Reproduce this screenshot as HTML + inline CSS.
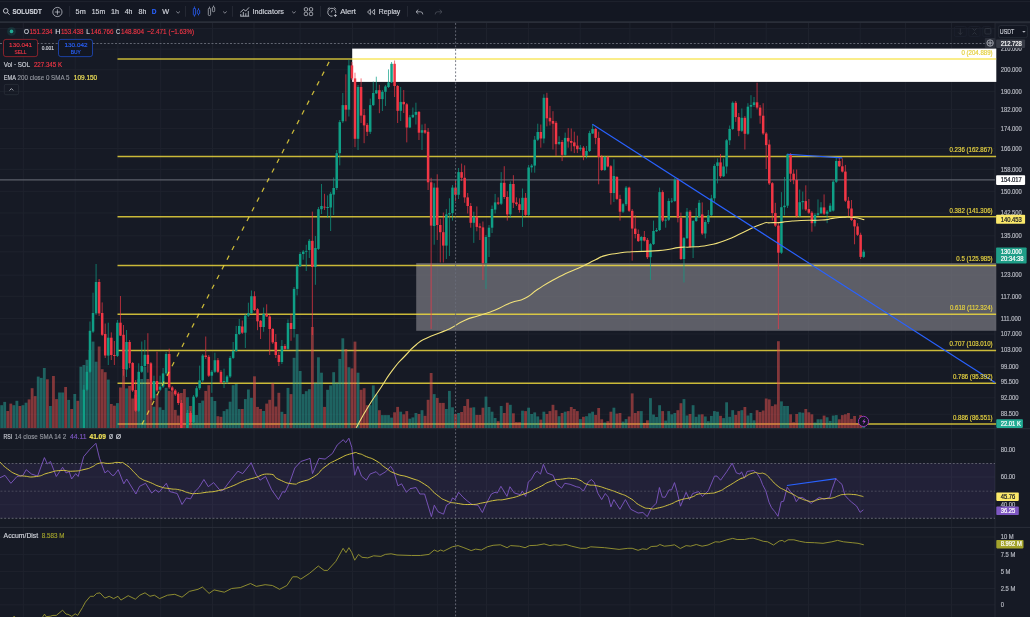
<!DOCTYPE html>
<html><head><meta charset="utf-8"><title>SOLUSDT chart</title>
<style>
html,body{margin:0;padding:0;background:#161a25;width:1030px;height:617px;overflow:hidden;}
svg{position:absolute;left:0;top:0;display:block;font-family:'Liberation Sans', Arial, sans-serif;will-change:transform;}
text{font-family:'Liberation Sans', Arial, sans-serif;}
</style></head>
<body>
<svg width="1030" height="617" viewBox="0 0 1030 617">
<defs>
<clipPath id="cpMain"><rect x="0" y="23" width="995.0" height="405.2"/></clipPath>
<clipPath id="cpAD"><rect x="0" y="527" width="995.0" height="90"/></clipPath>
</defs>
<rect x="0" y="0" width="1030" height="617" fill="#161a25"/>
<rect x="0" y="0" width="1030" height="21.2" fill="#131722"/>
<rect x="0" y="21.2" width="1030" height="2" fill="#2a2e39"/>
<rect x="0" y="1" width="1030" height="1.1" fill="#1d212c"/>
<rect x="0" y="23.2" width="995" height="4.8" fill="#141721"/>
<line x1="23.3" y1="23" x2="23.3" y2="617" stroke="#1e222d" stroke-width="1"/>
<line x1="75.2" y1="23" x2="75.2" y2="617" stroke="#1e222d" stroke-width="1"/>
<line x1="117.9" y1="23" x2="117.9" y2="617" stroke="#1e222d" stroke-width="1"/>
<line x1="160.7" y1="23" x2="160.7" y2="617" stroke="#1e222d" stroke-width="1"/>
<line x1="212.5" y1="23" x2="212.5" y2="617" stroke="#1e222d" stroke-width="1"/>
<line x1="254" y1="23" x2="254" y2="617" stroke="#1e222d" stroke-width="1"/>
<line x1="300.1" y1="23" x2="300.1" y2="617" stroke="#1e222d" stroke-width="1"/>
<line x1="352.5" y1="23" x2="352.5" y2="617" stroke="#1e222d" stroke-width="1"/>
<line x1="394.2" y1="23" x2="394.2" y2="617" stroke="#1e222d" stroke-width="1"/>
<line x1="437.4" y1="23" x2="437.4" y2="617" stroke="#1e222d" stroke-width="1"/>
<line x1="486.5" y1="23" x2="486.5" y2="617" stroke="#1e222d" stroke-width="1"/>
<line x1="528.6" y1="23" x2="528.6" y2="617" stroke="#1e222d" stroke-width="1"/>
<line x1="580.2" y1="23" x2="580.2" y2="617" stroke="#1e222d" stroke-width="1"/>
<line x1="629.9" y1="23" x2="629.9" y2="617" stroke="#1e222d" stroke-width="1"/>
<line x1="671.8" y1="23" x2="671.8" y2="617" stroke="#1e222d" stroke-width="1"/>
<line x1="714.6" y1="23" x2="714.6" y2="617" stroke="#1e222d" stroke-width="1"/>
<line x1="766.2" y1="23" x2="766.2" y2="617" stroke="#1e222d" stroke-width="1"/>
<line x1="808.5" y1="23" x2="808.5" y2="617" stroke="#1e222d" stroke-width="1"/>
<line x1="860.2" y1="23" x2="860.2" y2="617" stroke="#1e222d" stroke-width="1"/>
<line x1="905.6" y1="23" x2="905.6" y2="617" stroke="#1e222d" stroke-width="1"/>
<line x1="951.5" y1="23" x2="951.5" y2="617" stroke="#1e222d" stroke-width="1"/>
<line x1="0" y1="49.15" x2="995.0" y2="49.15" stroke="#1e222d" stroke-width="1"/>
<line x1="0" y1="69.76" x2="995.0" y2="69.76" stroke="#1e222d" stroke-width="1"/>
<line x1="0" y1="91.43" x2="995.0" y2="91.43" stroke="#1e222d" stroke-width="1"/>
<line x1="0" y1="109.61" x2="995.0" y2="109.61" stroke="#1e222d" stroke-width="1"/>
<line x1="0" y1="128.6" x2="995.0" y2="128.6" stroke="#1e222d" stroke-width="1"/>
<line x1="0" y1="148.49" x2="995.0" y2="148.49" stroke="#1e222d" stroke-width="1"/>
<line x1="0" y1="169.35" x2="995.0" y2="169.35" stroke="#1e222d" stroke-width="1"/>
<line x1="0" y1="191.31" x2="995.0" y2="191.31" stroke="#1e222d" stroke-width="1"/>
<line x1="0" y1="212.98" x2="995.0" y2="212.98" stroke="#1e222d" stroke-width="1"/>
<line x1="0" y1="235.82" x2="995.0" y2="235.82" stroke="#1e222d" stroke-width="1"/>
<line x1="0" y1="251.77" x2="995.0" y2="251.77" stroke="#1e222d" stroke-width="1"/>
<line x1="0" y1="275.15" x2="995.0" y2="275.15" stroke="#1e222d" stroke-width="1"/>
<line x1="0" y1="296.28" x2="995.0" y2="296.28" stroke="#1e222d" stroke-width="1"/>
<line x1="0" y1="318.52" x2="995.0" y2="318.52" stroke="#1e222d" stroke-width="1"/>
<line x1="0" y1="334.03" x2="995.0" y2="334.03" stroke="#1e222d" stroke-width="1"/>
<line x1="0" y1="350.13" x2="995.0" y2="350.13" stroke="#1e222d" stroke-width="1"/>
<line x1="0" y1="366.86" x2="995.0" y2="366.86" stroke="#1e222d" stroke-width="1"/>
<line x1="0" y1="382.07" x2="995.0" y2="382.07" stroke="#1e222d" stroke-width="1"/>
<line x1="0" y1="397.84" x2="995.0" y2="397.84" stroke="#1e222d" stroke-width="1"/>
<line x1="0" y1="414.23" x2="995.0" y2="414.23" stroke="#1e222d" stroke-width="1"/>
<line x1="0" y1="28.4" x2="995.0" y2="28.4" stroke="#1e222d" stroke-width="1"/>
<line x1="0" y1="449.5" x2="995.0" y2="449.5" stroke="#1e222d" stroke-width="1"/>
<line x1="0" y1="477.0" x2="995.0" y2="477.0" stroke="#1e222d" stroke-width="1"/>
<line x1="0" y1="504.7" x2="995.0" y2="504.7" stroke="#1e222d" stroke-width="1"/>
<line x1="0" y1="537" x2="995.0" y2="537" stroke="#1e222d" stroke-width="1"/>
<line x1="0" y1="554.4" x2="995.0" y2="554.4" stroke="#1e222d" stroke-width="1"/>
<line x1="0" y1="571.6" x2="995.0" y2="571.6" stroke="#1e222d" stroke-width="1"/>
<line x1="0" y1="588.5" x2="995.0" y2="588.5" stroke="#1e222d" stroke-width="1"/>
<line x1="0" y1="604.8" x2="995.0" y2="604.8" stroke="#1e222d" stroke-width="1"/>
<rect x="994.6" y="23" width="0.8" height="594" fill="#2a2e39"/>
<rect x="0" y="463.3" width="995.0" height="55" fill="rgba(126,87,194,0.12)"/>
<line x1="0.5" y1="463.4" x2="995.0" y2="463.4" stroke="#8a8d96" stroke-width="0.8" stroke-dasharray="1.9 1.82" opacity="0.8"/>
<line x1="0.5" y1="491.2" x2="995.0" y2="491.2" stroke="#8a8d96" stroke-width="0.8" stroke-dasharray="1.9 1.82" opacity="0.45"/>
<line x1="0.5" y1="518.3" x2="995.0" y2="518.3" stroke="#8a8d96" stroke-width="0.8" stroke-dasharray="1.9 1.82" opacity="0.8"/>
<rect x="352.2" y="48.6" width="644.1" height="33.3" fill="#ffffff"/>
<rect x="416.2" y="263.1" width="580.1" height="67.7" fill="rgba(117,118,126,0.75)"/>
<line x1="0" y1="179.8" x2="995.0" y2="179.8" stroke="#5d606b" stroke-width="1.2"/>
<line x1="117.5" y1="58.9" x2="996.1" y2="58.9" stroke="rgba(248,225,61,0.8)" stroke-width="1.5"/>
<line x1="117.5" y1="156.6" x2="996.1" y2="156.6" stroke="rgba(248,225,61,0.8)" stroke-width="1.5"/>
<line x1="117.5" y1="216.7" x2="996.1" y2="216.7" stroke="rgba(248,225,61,0.8)" stroke-width="1.5"/>
<line x1="117.5" y1="265.4" x2="996.1" y2="265.4" stroke="rgba(248,225,61,0.8)" stroke-width="1.5"/>
<line x1="117.5" y1="314.3" x2="996.1" y2="314.3" stroke="rgba(248,225,61,0.8)" stroke-width="1.5"/>
<line x1="117.5" y1="350.6" x2="996.1" y2="350.6" stroke="rgba(248,225,61,0.8)" stroke-width="1.5"/>
<line x1="117.5" y1="383.35" x2="996.1" y2="383.35" stroke="rgba(248,225,61,0.8)" stroke-width="1.5"/>
<line x1="117.5" y1="424.1" x2="996.1" y2="424.1" stroke="rgba(248,225,61,0.8)" stroke-width="1.5"/>
<g clip-path="url(#cpMain)">
<rect x="0.26" y="405.2" width="2.8" height="23" fill="rgba(38,166,154,0.52)"/>
<rect x="3.3" y="401.9" width="2.8" height="26.3" fill="rgba(38,166,154,0.52)"/>
<rect x="6.35" y="411" width="2.8" height="17.2" fill="rgba(239,83,80,0.5)"/>
<rect x="9.4" y="403.6" width="2.8" height="24.6" fill="rgba(239,83,80,0.5)"/>
<rect x="12.44" y="405.2" width="2.8" height="23" fill="rgba(38,166,154,0.52)"/>
<rect x="15.49" y="400.8" width="2.8" height="27.4" fill="rgba(38,166,154,0.52)"/>
<rect x="18.53" y="406" width="2.8" height="22.2" fill="rgba(239,83,80,0.5)"/>
<rect x="21.58" y="405.2" width="2.8" height="23" fill="rgba(38,166,154,0.52)"/>
<rect x="24.63" y="402.7" width="2.8" height="25.5" fill="rgba(38,166,154,0.52)"/>
<rect x="27.67" y="399.4" width="2.8" height="28.8" fill="rgba(239,83,80,0.5)"/>
<rect x="30.72" y="388.2" width="2.8" height="40" fill="rgba(239,83,80,0.5)"/>
<rect x="33.76" y="396.1" width="2.8" height="32.1" fill="rgba(239,83,80,0.5)"/>
<rect x="36.81" y="376.6" width="2.8" height="51.6" fill="rgba(38,166,154,0.52)"/>
<rect x="39.86" y="377.9" width="2.8" height="50.3" fill="rgba(38,166,154,0.52)"/>
<rect x="42.9" y="368" width="2.8" height="60.2" fill="rgba(38,166,154,0.52)"/>
<rect x="45.95" y="379.3" width="2.8" height="48.9" fill="rgba(239,83,80,0.5)"/>
<rect x="48.99" y="406" width="2.8" height="22.2" fill="rgba(38,166,154,0.52)"/>
<rect x="52.04" y="376" width="2.8" height="52.2" fill="rgba(239,83,80,0.5)"/>
<rect x="55.09" y="399.1" width="2.8" height="29.1" fill="rgba(239,83,80,0.5)"/>
<rect x="58.13" y="392.5" width="2.8" height="35.7" fill="rgba(38,166,154,0.52)"/>
<rect x="61.18" y="392.5" width="2.8" height="35.7" fill="rgba(38,166,154,0.52)"/>
<rect x="64.22" y="387" width="2.8" height="41.2" fill="rgba(239,83,80,0.5)"/>
<rect x="67.27" y="399.9" width="2.8" height="28.3" fill="rgba(38,166,154,0.52)"/>
<rect x="70.32" y="409" width="2.8" height="19.2" fill="rgba(239,83,80,0.5)"/>
<rect x="73.36" y="394" width="2.8" height="34.2" fill="rgba(38,166,154,0.52)"/>
<rect x="76.41" y="400.8" width="2.8" height="27.4" fill="rgba(239,83,80,0.5)"/>
<rect x="79.45" y="366.7" width="2.8" height="61.5" fill="rgba(38,166,154,0.52)"/>
<rect x="82.5" y="365" width="2.8" height="63.2" fill="rgba(38,166,154,0.52)"/>
<rect x="85.55" y="359.8" width="2.8" height="68.4" fill="rgba(38,166,154,0.52)"/>
<rect x="88.59" y="350" width="2.8" height="78.2" fill="rgba(38,166,154,0.52)"/>
<rect x="91.64" y="341.6" width="2.8" height="86.6" fill="rgba(38,166,154,0.52)"/>
<rect x="94.68" y="361.7" width="2.8" height="66.5" fill="rgba(38,166,154,0.52)"/>
<rect x="97.73" y="346.5" width="2.8" height="81.7" fill="rgba(239,83,80,0.5)"/>
<rect x="100.78" y="369.2" width="2.8" height="59" fill="rgba(239,83,80,0.5)"/>
<rect x="103.82" y="372.2" width="2.8" height="56" fill="rgba(239,83,80,0.5)"/>
<rect x="106.87" y="379.6" width="2.8" height="48.6" fill="rgba(38,166,154,0.52)"/>
<rect x="109.91" y="404" width="2.8" height="24.2" fill="rgba(239,83,80,0.5)"/>
<rect x="112.96" y="405.7" width="2.8" height="22.5" fill="rgba(239,83,80,0.5)"/>
<rect x="116.01" y="403.1" width="2.8" height="25.1" fill="rgba(38,166,154,0.52)"/>
<rect x="119.05" y="387.5" width="2.8" height="40.7" fill="rgba(239,83,80,0.5)"/>
<rect x="122.1" y="370" width="2.8" height="58.2" fill="rgba(239,83,80,0.5)"/>
<rect x="125.14" y="388.4" width="2.8" height="39.8" fill="rgba(38,166,154,0.52)"/>
<rect x="128.19" y="385.9" width="2.8" height="42.3" fill="rgba(239,83,80,0.5)"/>
<rect x="131.24" y="398.5" width="2.8" height="29.7" fill="rgba(239,83,80,0.5)"/>
<rect x="134.28" y="395" width="2.8" height="33.2" fill="rgba(239,83,80,0.5)"/>
<rect x="137.33" y="379" width="2.8" height="49.2" fill="rgba(38,166,154,0.52)"/>
<rect x="140.37" y="379" width="2.8" height="49.2" fill="rgba(38,166,154,0.52)"/>
<rect x="143.42" y="367" width="2.8" height="61.2" fill="rgba(38,166,154,0.52)"/>
<rect x="146.47" y="379" width="2.8" height="49.2" fill="rgba(239,83,80,0.5)"/>
<rect x="149.51" y="397.9" width="2.8" height="30.3" fill="rgba(239,83,80,0.5)"/>
<rect x="152.56" y="406.7" width="2.8" height="21.5" fill="rgba(38,166,154,0.52)"/>
<rect x="155.6" y="394.1" width="2.8" height="34.1" fill="rgba(239,83,80,0.5)"/>
<rect x="158.65" y="407.3" width="2.8" height="20.9" fill="rgba(38,166,154,0.52)"/>
<rect x="161.7" y="409.9" width="2.8" height="18.3" fill="rgba(38,166,154,0.52)"/>
<rect x="164.74" y="387.8" width="2.8" height="40.4" fill="rgba(38,166,154,0.52)"/>
<rect x="167.79" y="390.9" width="2.8" height="37.3" fill="rgba(239,83,80,0.5)"/>
<rect x="170.83" y="391.6" width="2.8" height="36.6" fill="rgba(239,83,80,0.5)"/>
<rect x="173.88" y="409.9" width="2.8" height="18.3" fill="rgba(239,83,80,0.5)"/>
<rect x="176.93" y="415.5" width="2.8" height="12.7" fill="rgba(239,83,80,0.5)"/>
<rect x="179.97" y="393" width="2.8" height="35.2" fill="rgba(239,83,80,0.5)"/>
<rect x="183.02" y="389" width="2.8" height="39.2" fill="rgba(239,83,80,0.5)"/>
<rect x="186.06" y="397.2" width="2.8" height="31" fill="rgba(38,166,154,0.52)"/>
<rect x="189.11" y="406" width="2.8" height="22.2" fill="rgba(239,83,80,0.5)"/>
<rect x="192.16" y="414.9" width="2.8" height="13.3" fill="rgba(38,166,154,0.52)"/>
<rect x="195.2" y="415" width="2.8" height="13.2" fill="rgba(38,166,154,0.52)"/>
<rect x="198.25" y="403" width="2.8" height="25.2" fill="rgba(38,166,154,0.52)"/>
<rect x="201.29" y="400.6" width="2.8" height="27.6" fill="rgba(38,166,154,0.52)"/>
<rect x="204.34" y="390.9" width="2.8" height="37.3" fill="rgba(239,83,80,0.5)"/>
<rect x="207.39" y="385.2" width="2.8" height="43" fill="rgba(239,83,80,0.5)"/>
<rect x="210.43" y="396.9" width="2.8" height="31.3" fill="rgba(38,166,154,0.52)"/>
<rect x="213.48" y="401" width="2.8" height="27.2" fill="rgba(38,166,154,0.52)"/>
<rect x="216.52" y="416.2" width="2.8" height="12" fill="rgba(239,83,80,0.5)"/>
<rect x="219.57" y="416.8" width="2.8" height="11.4" fill="rgba(239,83,80,0.5)"/>
<rect x="222.62" y="411.1" width="2.8" height="17.1" fill="rgba(38,166,154,0.52)"/>
<rect x="225.66" y="409.2" width="2.8" height="19" fill="rgba(38,166,154,0.52)"/>
<rect x="228.71" y="401.7" width="2.8" height="26.5" fill="rgba(38,166,154,0.52)"/>
<rect x="231.75" y="385.2" width="2.8" height="43" fill="rgba(38,166,154,0.52)"/>
<rect x="234.8" y="384" width="2.8" height="44.2" fill="rgba(38,166,154,0.52)"/>
<rect x="237.85" y="409" width="2.8" height="19.2" fill="rgba(38,166,154,0.52)"/>
<rect x="240.89" y="409" width="2.8" height="19.2" fill="rgba(239,83,80,0.5)"/>
<rect x="243.94" y="399.1" width="2.8" height="29.1" fill="rgba(38,166,154,0.52)"/>
<rect x="246.98" y="389.5" width="2.8" height="38.7" fill="rgba(38,166,154,0.52)"/>
<rect x="250.03" y="397.8" width="2.8" height="30.4" fill="rgba(38,166,154,0.52)"/>
<rect x="253.08" y="376.3" width="2.8" height="51.9" fill="rgba(239,83,80,0.5)"/>
<rect x="256.12" y="406.9" width="2.8" height="21.3" fill="rgba(239,83,80,0.5)"/>
<rect x="259.17" y="409" width="2.8" height="19.2" fill="rgba(239,83,80,0.5)"/>
<rect x="262.21" y="411" width="2.8" height="17.2" fill="rgba(38,166,154,0.52)"/>
<rect x="265.26" y="403.6" width="2.8" height="24.6" fill="rgba(239,83,80,0.5)"/>
<rect x="268.31" y="399.8" width="2.8" height="28.4" fill="rgba(239,83,80,0.5)"/>
<rect x="271.35" y="383.2" width="2.8" height="45" fill="rgba(239,83,80,0.5)"/>
<rect x="274.4" y="406.5" width="2.8" height="21.7" fill="rgba(239,83,80,0.5)"/>
<rect x="277.44" y="392.8" width="2.8" height="35.4" fill="rgba(239,83,80,0.5)"/>
<rect x="280.49" y="411.8" width="2.8" height="16.4" fill="rgba(38,166,154,0.52)"/>
<rect x="283.54" y="414" width="2.8" height="14.2" fill="rgba(239,83,80,0.5)"/>
<rect x="286.58" y="387.9" width="2.8" height="40.3" fill="rgba(38,166,154,0.52)"/>
<rect x="289.63" y="394.1" width="2.8" height="34.1" fill="rgba(239,83,80,0.5)"/>
<rect x="292.67" y="357.8" width="2.8" height="70.4" fill="rgba(38,166,154,0.52)"/>
<rect x="295.72" y="334.1" width="2.8" height="94.1" fill="rgba(38,166,154,0.52)"/>
<rect x="298.77" y="371" width="2.8" height="57.2" fill="rgba(38,166,154,0.52)"/>
<rect x="301.81" y="394.1" width="2.8" height="34.1" fill="rgba(38,166,154,0.52)"/>
<rect x="304.86" y="391.2" width="2.8" height="37" fill="rgba(38,166,154,0.52)"/>
<rect x="307.9" y="389.2" width="2.8" height="39" fill="rgba(38,166,154,0.52)"/>
<rect x="310.95" y="327" width="2.8" height="101.2" fill="rgba(239,83,80,0.5)"/>
<rect x="314" y="382.9" width="2.8" height="45.3" fill="rgba(38,166,154,0.52)"/>
<rect x="317.04" y="357.3" width="2.8" height="70.9" fill="rgba(38,166,154,0.52)"/>
<rect x="320.09" y="372.7" width="2.8" height="55.5" fill="rgba(38,166,154,0.52)"/>
<rect x="323.13" y="406.9" width="2.8" height="21.3" fill="rgba(239,83,80,0.5)"/>
<rect x="326.18" y="389.8" width="2.8" height="38.4" fill="rgba(38,166,154,0.52)"/>
<rect x="329.23" y="385.4" width="2.8" height="42.8" fill="rgba(38,166,154,0.52)"/>
<rect x="332.27" y="372.2" width="2.8" height="56" fill="rgba(38,166,154,0.52)"/>
<rect x="335.32" y="382.6" width="2.8" height="45.6" fill="rgba(38,166,154,0.52)"/>
<rect x="338.36" y="358.9" width="2.8" height="69.3" fill="rgba(38,166,154,0.52)"/>
<rect x="341.41" y="338.3" width="2.8" height="89.9" fill="rgba(38,166,154,0.52)"/>
<rect x="344.46" y="349" width="2.8" height="79.2" fill="rgba(239,83,80,0.5)"/>
<rect x="347.5" y="367.2" width="2.8" height="61" fill="rgba(38,166,154,0.52)"/>
<rect x="350.55" y="368.4" width="2.8" height="59.8" fill="rgba(239,83,80,0.5)"/>
<rect x="353.59" y="341.6" width="2.8" height="86.6" fill="rgba(239,83,80,0.5)"/>
<rect x="356.64" y="372.7" width="2.8" height="55.5" fill="rgba(38,166,154,0.52)"/>
<rect x="359.69" y="389.8" width="2.8" height="38.4" fill="rgba(239,83,80,0.5)"/>
<rect x="362.73" y="388.2" width="2.8" height="40" fill="rgba(239,83,80,0.5)"/>
<rect x="365.78" y="405.2" width="2.8" height="23" fill="rgba(239,83,80,0.5)"/>
<rect x="368.82" y="405.2" width="2.8" height="23" fill="rgba(38,166,154,0.52)"/>
<rect x="371.87" y="385.4" width="2.8" height="42.8" fill="rgba(38,166,154,0.52)"/>
<rect x="374.92" y="394.5" width="2.8" height="33.7" fill="rgba(38,166,154,0.52)"/>
<rect x="377.96" y="410.2" width="2.8" height="18" fill="rgba(239,83,80,0.5)"/>
<rect x="381.01" y="415.1" width="2.8" height="13.1" fill="rgba(38,166,154,0.52)"/>
<rect x="384.05" y="415.1" width="2.8" height="13.1" fill="rgba(38,166,154,0.52)"/>
<rect x="387.1" y="415.1" width="2.8" height="13.1" fill="rgba(38,166,154,0.52)"/>
<rect x="390.15" y="417.6" width="2.8" height="10.6" fill="rgba(38,166,154,0.52)"/>
<rect x="393.19" y="412.3" width="2.8" height="15.9" fill="rgba(239,83,80,0.5)"/>
<rect x="396.24" y="406.9" width="2.8" height="21.3" fill="rgba(239,83,80,0.5)"/>
<rect x="399.28" y="411.7" width="2.8" height="16.5" fill="rgba(38,166,154,0.52)"/>
<rect x="402.33" y="414.3" width="2.8" height="13.9" fill="rgba(239,83,80,0.5)"/>
<rect x="405.38" y="411.1" width="2.8" height="17.1" fill="rgba(239,83,80,0.5)"/>
<rect x="408.42" y="418.7" width="2.8" height="9.5" fill="rgba(38,166,154,0.52)"/>
<rect x="411.47" y="417.4" width="2.8" height="10.8" fill="rgba(38,166,154,0.52)"/>
<rect x="414.51" y="413" width="2.8" height="15.2" fill="rgba(38,166,154,0.52)"/>
<rect x="417.56" y="414" width="2.8" height="14.2" fill="rgba(239,83,80,0.5)"/>
<rect x="420.61" y="410.2" width="2.8" height="18" fill="rgba(38,166,154,0.52)"/>
<rect x="423.65" y="415.8" width="2.8" height="12.4" fill="rgba(239,83,80,0.5)"/>
<rect x="426.7" y="399.8" width="2.8" height="28.4" fill="rgba(239,83,80,0.5)"/>
<rect x="429.74" y="373" width="2.8" height="55.2" fill="rgba(239,83,80,0.5)"/>
<rect x="432.79" y="394.1" width="2.8" height="34.1" fill="rgba(38,166,154,0.52)"/>
<rect x="435.84" y="397.9" width="2.8" height="30.3" fill="rgba(239,83,80,0.5)"/>
<rect x="438.88" y="402.9" width="2.8" height="25.3" fill="rgba(239,83,80,0.5)"/>
<rect x="441.93" y="402.9" width="2.8" height="25.3" fill="rgba(239,83,80,0.5)"/>
<rect x="444.97" y="409" width="2.8" height="19.2" fill="rgba(38,166,154,0.52)"/>
<rect x="448.02" y="390.9" width="2.8" height="37.3" fill="rgba(38,166,154,0.52)"/>
<rect x="451.07" y="407.3" width="2.8" height="20.9" fill="rgba(38,166,154,0.52)"/>
<rect x="454.11" y="414" width="2.8" height="14.2" fill="rgba(239,83,80,0.5)"/>
<rect x="457.16" y="413" width="2.8" height="15.2" fill="rgba(38,166,154,0.52)"/>
<rect x="460.2" y="412" width="2.8" height="16.2" fill="rgba(239,83,80,0.5)"/>
<rect x="463.25" y="406" width="2.8" height="22.2" fill="rgba(239,83,80,0.5)"/>
<rect x="466.3" y="399.1" width="2.8" height="29.1" fill="rgba(239,83,80,0.5)"/>
<rect x="469.34" y="407.7" width="2.8" height="20.5" fill="rgba(239,83,80,0.5)"/>
<rect x="472.39" y="407.3" width="2.8" height="20.9" fill="rgba(38,166,154,0.52)"/>
<rect x="475.43" y="414.9" width="2.8" height="13.3" fill="rgba(239,83,80,0.5)"/>
<rect x="478.48" y="414.9" width="2.8" height="13.3" fill="rgba(239,83,80,0.5)"/>
<rect x="481.53" y="407.7" width="2.8" height="20.5" fill="rgba(239,83,80,0.5)"/>
<rect x="484.57" y="396.6" width="2.8" height="31.6" fill="rgba(38,166,154,0.52)"/>
<rect x="487.62" y="407" width="2.8" height="21.2" fill="rgba(38,166,154,0.52)"/>
<rect x="490.66" y="411.7" width="2.8" height="16.5" fill="rgba(38,166,154,0.52)"/>
<rect x="493.71" y="418" width="2.8" height="10.2" fill="rgba(38,166,154,0.52)"/>
<rect x="496.76" y="421.2" width="2.8" height="7" fill="rgba(239,83,80,0.5)"/>
<rect x="499.8" y="406" width="2.8" height="22.2" fill="rgba(38,166,154,0.52)"/>
<rect x="502.85" y="413" width="2.8" height="15.2" fill="rgba(239,83,80,0.5)"/>
<rect x="505.89" y="402.7" width="2.8" height="25.5" fill="rgba(239,83,80,0.5)"/>
<rect x="508.94" y="404.8" width="2.8" height="23.4" fill="rgba(38,166,154,0.52)"/>
<rect x="511.99" y="413.3" width="2.8" height="14.9" fill="rgba(239,83,80,0.5)"/>
<rect x="515.03" y="422.1" width="2.8" height="6.1" fill="rgba(239,83,80,0.5)"/>
<rect x="518.08" y="422.1" width="2.8" height="6.1" fill="rgba(239,83,80,0.5)"/>
<rect x="521.12" y="410.7" width="2.8" height="17.5" fill="rgba(38,166,154,0.52)"/>
<rect x="524.17" y="411.1" width="2.8" height="17.1" fill="rgba(239,83,80,0.5)"/>
<rect x="527.22" y="407.7" width="2.8" height="20.5" fill="rgba(38,166,154,0.52)"/>
<rect x="530.26" y="414" width="2.8" height="14.2" fill="rgba(38,166,154,0.52)"/>
<rect x="533.31" y="412.4" width="2.8" height="15.8" fill="rgba(38,166,154,0.52)"/>
<rect x="536.35" y="416.4" width="2.8" height="11.8" fill="rgba(38,166,154,0.52)"/>
<rect x="539.4" y="419.6" width="2.8" height="8.6" fill="rgba(239,83,80,0.5)"/>
<rect x="542.45" y="411.7" width="2.8" height="16.5" fill="rgba(38,166,154,0.52)"/>
<rect x="545.49" y="414" width="2.8" height="14.2" fill="rgba(239,83,80,0.5)"/>
<rect x="548.54" y="411.1" width="2.8" height="17.1" fill="rgba(239,83,80,0.5)"/>
<rect x="551.58" y="404.8" width="2.8" height="23.4" fill="rgba(239,83,80,0.5)"/>
<rect x="554.63" y="410.2" width="2.8" height="18" fill="rgba(239,83,80,0.5)"/>
<rect x="557.68" y="416.2" width="2.8" height="12" fill="rgba(38,166,154,0.52)"/>
<rect x="560.72" y="413" width="2.8" height="15.2" fill="rgba(239,83,80,0.5)"/>
<rect x="563.77" y="411.7" width="2.8" height="16.5" fill="rgba(38,166,154,0.52)"/>
<rect x="566.81" y="411.1" width="2.8" height="17.1" fill="rgba(239,83,80,0.5)"/>
<rect x="569.86" y="407" width="2.8" height="21.2" fill="rgba(239,83,80,0.5)"/>
<rect x="572.91" y="409" width="2.8" height="19.2" fill="rgba(239,83,80,0.5)"/>
<rect x="575.95" y="411.1" width="2.8" height="17.1" fill="rgba(239,83,80,0.5)"/>
<rect x="579" y="419.1" width="2.8" height="9.1" fill="rgba(38,166,154,0.52)"/>
<rect x="582.04" y="416.8" width="2.8" height="11.4" fill="rgba(239,83,80,0.5)"/>
<rect x="585.09" y="416.2" width="2.8" height="12" fill="rgba(38,166,154,0.52)"/>
<rect x="588.14" y="413.3" width="2.8" height="14.9" fill="rgba(38,166,154,0.52)"/>
<rect x="591.18" y="411.7" width="2.8" height="16.5" fill="rgba(38,166,154,0.52)"/>
<rect x="594.23" y="414.9" width="2.8" height="13.3" fill="rgba(239,83,80,0.5)"/>
<rect x="597.27" y="408" width="2.8" height="20.2" fill="rgba(239,83,80,0.5)"/>
<rect x="600.32" y="419.3" width="2.8" height="8.9" fill="rgba(239,83,80,0.5)"/>
<rect x="603.37" y="422.5" width="2.8" height="5.7" fill="rgba(38,166,154,0.52)"/>
<rect x="606.41" y="421.2" width="2.8" height="7" fill="rgba(239,83,80,0.5)"/>
<rect x="609.46" y="411.7" width="2.8" height="16.5" fill="rgba(239,83,80,0.5)"/>
<rect x="612.5" y="407.7" width="2.8" height="20.5" fill="rgba(38,166,154,0.52)"/>
<rect x="615.55" y="413.6" width="2.8" height="14.6" fill="rgba(239,83,80,0.5)"/>
<rect x="618.6" y="413" width="2.8" height="15.2" fill="rgba(239,83,80,0.5)"/>
<rect x="621.64" y="421.6" width="2.8" height="6.6" fill="rgba(38,166,154,0.52)"/>
<rect x="624.69" y="419.1" width="2.8" height="9.1" fill="rgba(38,166,154,0.52)"/>
<rect x="627.73" y="416.5" width="2.8" height="11.7" fill="rgba(239,83,80,0.5)"/>
<rect x="630.78" y="393.4" width="2.8" height="34.8" fill="rgba(239,83,80,0.5)"/>
<rect x="633.83" y="413" width="2.8" height="15.2" fill="rgba(239,83,80,0.5)"/>
<rect x="636.87" y="411.1" width="2.8" height="17.1" fill="rgba(239,83,80,0.5)"/>
<rect x="639.92" y="411.1" width="2.8" height="17.1" fill="rgba(38,166,154,0.52)"/>
<rect x="642.96" y="422.9" width="2.8" height="5.3" fill="rgba(239,83,80,0.5)"/>
<rect x="646.01" y="420.3" width="2.8" height="7.9" fill="rgba(239,83,80,0.5)"/>
<rect x="649.06" y="398.1" width="2.8" height="30.1" fill="rgba(38,166,154,0.52)"/>
<rect x="652.1" y="414.5" width="2.8" height="13.7" fill="rgba(38,166,154,0.52)"/>
<rect x="655.15" y="417" width="2.8" height="11.2" fill="rgba(38,166,154,0.52)"/>
<rect x="658.19" y="405.2" width="2.8" height="23" fill="rgba(38,166,154,0.52)"/>
<rect x="661.24" y="411.1" width="2.8" height="17.1" fill="rgba(239,83,80,0.5)"/>
<rect x="664.29" y="420.6" width="2.8" height="7.6" fill="rgba(38,166,154,0.52)"/>
<rect x="667.33" y="411.1" width="2.8" height="17.1" fill="rgba(38,166,154,0.52)"/>
<rect x="670.38" y="414.3" width="2.8" height="13.9" fill="rgba(38,166,154,0.52)"/>
<rect x="673.42" y="413" width="2.8" height="15.2" fill="rgba(38,166,154,0.52)"/>
<rect x="676.47" y="410.2" width="2.8" height="18" fill="rgba(239,83,80,0.5)"/>
<rect x="679.52" y="403.2" width="2.8" height="25" fill="rgba(239,83,80,0.5)"/>
<rect x="682.56" y="399.1" width="2.8" height="29.1" fill="rgba(38,166,154,0.52)"/>
<rect x="685.61" y="415.5" width="2.8" height="12.7" fill="rgba(38,166,154,0.52)"/>
<rect x="688.65" y="414" width="2.8" height="14.2" fill="rgba(239,83,80,0.5)"/>
<rect x="691.7" y="405.2" width="2.8" height="23" fill="rgba(38,166,154,0.52)"/>
<rect x="694.75" y="416.8" width="2.8" height="11.4" fill="rgba(38,166,154,0.52)"/>
<rect x="697.79" y="414.5" width="2.8" height="13.7" fill="rgba(38,166,154,0.52)"/>
<rect x="700.84" y="414.3" width="2.8" height="13.9" fill="rgba(239,83,80,0.5)"/>
<rect x="703.88" y="416.5" width="2.8" height="11.7" fill="rgba(38,166,154,0.52)"/>
<rect x="706.93" y="421.2" width="2.8" height="7" fill="rgba(38,166,154,0.52)"/>
<rect x="709.98" y="415.9" width="2.8" height="12.3" fill="rgba(38,166,154,0.52)"/>
<rect x="713.02" y="411.1" width="2.8" height="17.1" fill="rgba(38,166,154,0.52)"/>
<rect x="716.07" y="411.7" width="2.8" height="16.5" fill="rgba(38,166,154,0.52)"/>
<rect x="719.11" y="415.8" width="2.8" height="12.4" fill="rgba(239,83,80,0.5)"/>
<rect x="722.16" y="418.1" width="2.8" height="10.1" fill="rgba(38,166,154,0.52)"/>
<rect x="725.21" y="402.3" width="2.8" height="25.9" fill="rgba(38,166,154,0.52)"/>
<rect x="728.25" y="416.8" width="2.8" height="11.4" fill="rgba(38,166,154,0.52)"/>
<rect x="731.3" y="410.2" width="2.8" height="18" fill="rgba(38,166,154,0.52)"/>
<rect x="734.34" y="414.9" width="2.8" height="13.3" fill="rgba(239,83,80,0.5)"/>
<rect x="737.39" y="411.1" width="2.8" height="17.1" fill="rgba(239,83,80,0.5)"/>
<rect x="740.44" y="410.2" width="2.8" height="18" fill="rgba(38,166,154,0.52)"/>
<rect x="743.48" y="407" width="2.8" height="21.2" fill="rgba(239,83,80,0.5)"/>
<rect x="746.53" y="415.5" width="2.8" height="12.7" fill="rgba(38,166,154,0.52)"/>
<rect x="749.57" y="413" width="2.8" height="15.2" fill="rgba(38,166,154,0.52)"/>
<rect x="752.62" y="420.3" width="2.8" height="7.9" fill="rgba(38,166,154,0.52)"/>
<rect x="755.67" y="410.2" width="2.8" height="18" fill="rgba(239,83,80,0.5)"/>
<rect x="758.71" y="412" width="2.8" height="16.2" fill="rgba(239,83,80,0.5)"/>
<rect x="761.76" y="410.5" width="2.8" height="17.7" fill="rgba(239,83,80,0.5)"/>
<rect x="764.8" y="398.5" width="2.8" height="29.7" fill="rgba(239,83,80,0.5)"/>
<rect x="767.85" y="399.4" width="2.8" height="28.8" fill="rgba(239,83,80,0.5)"/>
<rect x="770.9" y="406.1" width="2.8" height="22.1" fill="rgba(239,83,80,0.5)"/>
<rect x="773.94" y="404.4" width="2.8" height="23.8" fill="rgba(239,83,80,0.5)"/>
<rect x="776.99" y="341.2" width="2.8" height="87" fill="rgba(239,83,80,0.5)"/>
<rect x="780.03" y="401.4" width="2.8" height="26.8" fill="rgba(38,166,154,0.52)"/>
<rect x="783.08" y="406" width="2.8" height="22.2" fill="rgba(38,166,154,0.52)"/>
<rect x="786.13" y="406" width="2.8" height="22.2" fill="rgba(38,166,154,0.52)"/>
<rect x="789.17" y="414.3" width="2.8" height="13.9" fill="rgba(239,83,80,0.5)"/>
<rect x="792.22" y="422.2" width="2.8" height="6" fill="rgba(239,83,80,0.5)"/>
<rect x="795.26" y="414" width="2.8" height="14.2" fill="rgba(239,83,80,0.5)"/>
<rect x="798.31" y="412.3" width="2.8" height="15.9" fill="rgba(38,166,154,0.52)"/>
<rect x="801.36" y="412.7" width="2.8" height="15.5" fill="rgba(38,166,154,0.52)"/>
<rect x="804.4" y="409" width="2.8" height="19.2" fill="rgba(239,83,80,0.5)"/>
<rect x="807.45" y="412.3" width="2.8" height="15.9" fill="rgba(239,83,80,0.5)"/>
<rect x="810.49" y="414.3" width="2.8" height="13.9" fill="rgba(239,83,80,0.5)"/>
<rect x="813.54" y="422.6" width="2.8" height="5.6" fill="rgba(38,166,154,0.52)"/>
<rect x="816.59" y="419.3" width="2.8" height="8.9" fill="rgba(38,166,154,0.52)"/>
<rect x="819.63" y="419.3" width="2.8" height="8.9" fill="rgba(38,166,154,0.52)"/>
<rect x="822.68" y="415.6" width="2.8" height="12.6" fill="rgba(239,83,80,0.5)"/>
<rect x="825.72" y="417.3" width="2.8" height="10.9" fill="rgba(38,166,154,0.52)"/>
<rect x="828.77" y="420.9" width="2.8" height="7.3" fill="rgba(38,166,154,0.52)"/>
<rect x="831.82" y="415.6" width="2.8" height="12.6" fill="rgba(38,166,154,0.52)"/>
<rect x="834.86" y="415.1" width="2.8" height="13.1" fill="rgba(38,166,154,0.52)"/>
<rect x="837.91" y="419.3" width="2.8" height="8.9" fill="rgba(239,83,80,0.5)"/>
<rect x="840.95" y="415.1" width="2.8" height="13.1" fill="rgba(239,83,80,0.5)"/>
<rect x="844" y="414.3" width="2.8" height="13.9" fill="rgba(239,83,80,0.5)"/>
<rect x="847.05" y="413" width="2.8" height="15.2" fill="rgba(239,83,80,0.5)"/>
<rect x="850.09" y="418.9" width="2.8" height="9.3" fill="rgba(239,83,80,0.5)"/>
<rect x="853.14" y="416" width="2.8" height="12.2" fill="rgba(239,83,80,0.5)"/>
<rect x="856.18" y="423.4" width="2.8" height="4.8" fill="rgba(239,83,80,0.5)"/>
<rect x="859.23" y="415.1" width="2.8" height="13.1" fill="rgba(239,83,80,0.5)"/>
<rect x="862.28" y="420" width="2.8" height="8.2" fill="rgba(38,166,154,0.52)"/>
<line x1="83.9" y1="385" x2="83.9" y2="440" stroke="#0f9f86" stroke-width="0.7"/>
<rect x="82.65" y="389.7" width="2.5" height="38.3" fill="#0f9f86"/>
<line x1="86.95" y1="366" x2="86.95" y2="391" stroke="#0f9f86" stroke-width="0.7"/>
<rect x="85.7" y="371.8" width="2.5" height="17.9" fill="#0f9f86"/>
<line x1="89.99" y1="321.5" x2="89.99" y2="373" stroke="#0f9f86" stroke-width="0.7"/>
<rect x="88.74" y="330.8" width="2.5" height="41" fill="#0f9f86"/>
<line x1="93.04" y1="292.7" x2="93.04" y2="333" stroke="#0f9f86" stroke-width="0.7"/>
<rect x="91.79" y="313" width="2.5" height="18.6" fill="#0f9f86"/>
<line x1="96.08" y1="264" x2="96.08" y2="315" stroke="#0f9f86" stroke-width="0.7"/>
<rect x="94.83" y="282" width="2.5" height="31.4" fill="#0f9f86"/>
<line x1="99.13" y1="279" x2="99.13" y2="316" stroke="#f23645" stroke-width="0.7"/>
<rect x="97.88" y="282" width="2.5" height="31.4" fill="#f23645"/>
<line x1="102.18" y1="302.4" x2="102.18" y2="336" stroke="#f23645" stroke-width="0.7"/>
<rect x="100.93" y="313" width="2.5" height="21.8" fill="#f23645"/>
<line x1="105.22" y1="323.5" x2="105.22" y2="358" stroke="#f23645" stroke-width="0.7"/>
<rect x="103.97" y="334" width="2.5" height="21.5" fill="#f23645"/>
<line x1="108.27" y1="322.7" x2="108.27" y2="365" stroke="#0f9f86" stroke-width="0.7"/>
<rect x="107.02" y="337.7" width="2.5" height="17.9" fill="#0f9f86"/>
<line x1="111.31" y1="332.4" x2="111.31" y2="360" stroke="#f23645" stroke-width="0.7"/>
<rect x="110.06" y="337.7" width="2.5" height="17.3" fill="#f23645"/>
<line x1="114.36" y1="341" x2="114.36" y2="365" stroke="#f23645" stroke-width="0.7"/>
<rect x="113.11" y="355" width="2.5" height="1" fill="#f23645"/>
<line x1="117.41" y1="320" x2="117.41" y2="357" stroke="#0f9f86" stroke-width="0.7"/>
<rect x="116.16" y="322.7" width="2.5" height="33.2" fill="#0f9f86"/>
<line x1="120.45" y1="296" x2="120.45" y2="336" stroke="#f23645" stroke-width="0.7"/>
<rect x="119.2" y="322.7" width="2.5" height="12.9" fill="#f23645"/>
<line x1="123.5" y1="325" x2="123.5" y2="375.7" stroke="#f23645" stroke-width="0.7"/>
<rect x="122.25" y="334.8" width="2.5" height="34.7" fill="#f23645"/>
<line x1="126.54" y1="330" x2="126.54" y2="377" stroke="#0f9f86" stroke-width="0.7"/>
<rect x="125.29" y="342" width="2.5" height="27.5" fill="#0f9f86"/>
<line x1="129.59" y1="340" x2="129.59" y2="368" stroke="#f23645" stroke-width="0.7"/>
<rect x="128.34" y="342" width="2.5" height="21.3" fill="#f23645"/>
<line x1="132.64" y1="362" x2="132.64" y2="392" stroke="#f23645" stroke-width="0.7"/>
<rect x="131.39" y="363" width="2.5" height="27.5" fill="#f23645"/>
<line x1="135.68" y1="380" x2="135.68" y2="412" stroke="#f23645" stroke-width="0.7"/>
<rect x="134.43" y="390" width="2.5" height="20.7" fill="#f23645"/>
<line x1="138.73" y1="363.3" x2="138.73" y2="412" stroke="#0f9f86" stroke-width="0.7"/>
<rect x="137.48" y="371.8" width="2.5" height="38.9" fill="#0f9f86"/>
<line x1="141.77" y1="341.5" x2="141.77" y2="373" stroke="#0f9f86" stroke-width="0.7"/>
<rect x="140.52" y="366" width="2.5" height="5.8" fill="#0f9f86"/>
<line x1="144.82" y1="340" x2="144.82" y2="367" stroke="#0f9f86" stroke-width="0.7"/>
<rect x="143.57" y="354.8" width="2.5" height="11.2" fill="#0f9f86"/>
<line x1="147.87" y1="333.2" x2="147.87" y2="372.6" stroke="#f23645" stroke-width="0.7"/>
<rect x="146.62" y="354.8" width="2.5" height="9.2" fill="#f23645"/>
<line x1="150.91" y1="362" x2="150.91" y2="400" stroke="#f23645" stroke-width="0.7"/>
<rect x="149.66" y="363.3" width="2.5" height="35" fill="#f23645"/>
<line x1="153.96" y1="375.7" x2="153.96" y2="400" stroke="#0f9f86" stroke-width="0.7"/>
<rect x="152.71" y="381" width="2.5" height="17.3" fill="#0f9f86"/>
<line x1="157" y1="351.6" x2="157" y2="392" stroke="#f23645" stroke-width="0.7"/>
<rect x="155.75" y="381" width="2.5" height="9.5" fill="#f23645"/>
<line x1="160.05" y1="375.7" x2="160.05" y2="391" stroke="#0f9f86" stroke-width="0.7"/>
<rect x="158.8" y="386.6" width="2.5" height="3.1" fill="#0f9f86"/>
<line x1="163.1" y1="368" x2="163.1" y2="388" stroke="#0f9f86" stroke-width="0.7"/>
<rect x="161.85" y="373.4" width="2.5" height="13.2" fill="#0f9f86"/>
<line x1="166.14" y1="352" x2="166.14" y2="375" stroke="#0f9f86" stroke-width="0.7"/>
<rect x="164.89" y="354" width="2.5" height="19.4" fill="#0f9f86"/>
<line x1="169.19" y1="348.6" x2="169.19" y2="389" stroke="#f23645" stroke-width="0.7"/>
<rect x="167.94" y="354" width="2.5" height="33.4" fill="#f23645"/>
<line x1="172.23" y1="386" x2="172.23" y2="392" stroke="#f23645" stroke-width="0.7"/>
<rect x="170.98" y="387.4" width="2.5" height="3.1" fill="#f23645"/>
<line x1="175.28" y1="389" x2="175.28" y2="396" stroke="#f23645" stroke-width="0.7"/>
<rect x="174.03" y="390.5" width="2.5" height="3.9" fill="#f23645"/>
<line x1="178.33" y1="392" x2="178.33" y2="405" stroke="#f23645" stroke-width="0.7"/>
<rect x="177.08" y="393.6" width="2.5" height="9.4" fill="#f23645"/>
<line x1="181.37" y1="400" x2="181.37" y2="440" stroke="#f23645" stroke-width="0.7"/>
<rect x="180.12" y="403" width="2.5" height="25" fill="#f23645"/>
<line x1="184.42" y1="430" x2="184.42" y2="450" stroke="#f23645" stroke-width="0.7"/>
<rect x="183.17" y="435" width="2.5" height="5" fill="#f23645"/>
<line x1="187.46" y1="410" x2="187.46" y2="440" stroke="#0f9f86" stroke-width="0.7"/>
<rect x="186.21" y="413" width="2.5" height="15" fill="#0f9f86"/>
<line x1="190.51" y1="411" x2="190.51" y2="425" stroke="#f23645" stroke-width="0.7"/>
<rect x="189.26" y="413" width="2.5" height="9.3" fill="#f23645"/>
<line x1="193.56" y1="395" x2="193.56" y2="424" stroke="#0f9f86" stroke-width="0.7"/>
<rect x="192.31" y="396.7" width="2.5" height="25.6" fill="#0f9f86"/>
<line x1="196.6" y1="386" x2="196.6" y2="398" stroke="#0f9f86" stroke-width="0.7"/>
<rect x="195.35" y="388.2" width="2.5" height="8.5" fill="#0f9f86"/>
<line x1="199.65" y1="365.6" x2="199.65" y2="390" stroke="#0f9f86" stroke-width="0.7"/>
<rect x="198.4" y="380.4" width="2.5" height="7.8" fill="#0f9f86"/>
<line x1="202.69" y1="354" x2="202.69" y2="382" stroke="#0f9f86" stroke-width="0.7"/>
<rect x="201.44" y="355.5" width="2.5" height="24.9" fill="#0f9f86"/>
<line x1="205.74" y1="336.5" x2="205.74" y2="359" stroke="#f23645" stroke-width="0.7"/>
<rect x="204.49" y="355.5" width="2.5" height="1.5" fill="#f23645"/>
<line x1="208.79" y1="355" x2="208.79" y2="377" stroke="#f23645" stroke-width="0.7"/>
<rect x="207.54" y="356.8" width="2.5" height="18.9" fill="#f23645"/>
<line x1="211.83" y1="370" x2="211.83" y2="392.8" stroke="#0f9f86" stroke-width="0.7"/>
<rect x="210.58" y="371.8" width="2.5" height="3.9" fill="#0f9f86"/>
<line x1="214.88" y1="352.7" x2="214.88" y2="373" stroke="#0f9f86" stroke-width="0.7"/>
<rect x="213.63" y="360.2" width="2.5" height="11.6" fill="#0f9f86"/>
<line x1="217.92" y1="358" x2="217.92" y2="373" stroke="#f23645" stroke-width="0.7"/>
<rect x="216.67" y="360.2" width="2.5" height="11.6" fill="#f23645"/>
<line x1="220.97" y1="370" x2="220.97" y2="384" stroke="#f23645" stroke-width="0.7"/>
<rect x="219.72" y="371.8" width="2.5" height="10.9" fill="#f23645"/>
<line x1="224.02" y1="368.7" x2="224.02" y2="388" stroke="#0f9f86" stroke-width="0.7"/>
<rect x="222.77" y="381" width="2.5" height="1" fill="#0f9f86"/>
<line x1="227.06" y1="375" x2="227.06" y2="384" stroke="#0f9f86" stroke-width="0.7"/>
<rect x="225.81" y="376.5" width="2.5" height="5.5" fill="#0f9f86"/>
<line x1="230.11" y1="356" x2="230.11" y2="378" stroke="#0f9f86" stroke-width="0.7"/>
<rect x="228.86" y="357.9" width="2.5" height="18.6" fill="#0f9f86"/>
<line x1="233.15" y1="342" x2="233.15" y2="359" stroke="#0f9f86" stroke-width="0.7"/>
<rect x="231.9" y="350.9" width="2.5" height="7" fill="#0f9f86"/>
<line x1="236.2" y1="325.9" x2="236.2" y2="352" stroke="#0f9f86" stroke-width="0.7"/>
<rect x="234.95" y="334" width="2.5" height="17" fill="#0f9f86"/>
<line x1="239.25" y1="319" x2="239.25" y2="335" stroke="#0f9f86" stroke-width="0.7"/>
<rect x="238" y="326" width="2.5" height="8" fill="#0f9f86"/>
<line x1="242.29" y1="320.5" x2="242.29" y2="334" stroke="#f23645" stroke-width="0.7"/>
<rect x="241.04" y="326.5" width="2.5" height="6.2" fill="#f23645"/>
<line x1="245.34" y1="314" x2="245.34" y2="348" stroke="#0f9f86" stroke-width="0.7"/>
<rect x="244.09" y="315.6" width="2.5" height="17.1" fill="#0f9f86"/>
<line x1="248.38" y1="302.7" x2="248.38" y2="317" stroke="#0f9f86" stroke-width="0.7"/>
<rect x="247.13" y="313.2" width="2.5" height="2.4" fill="#0f9f86"/>
<line x1="251.43" y1="290.5" x2="251.43" y2="314" stroke="#0f9f86" stroke-width="0.7"/>
<rect x="250.18" y="296.2" width="2.5" height="17" fill="#0f9f86"/>
<line x1="254.48" y1="291.3" x2="254.48" y2="311" stroke="#f23645" stroke-width="0.7"/>
<rect x="253.23" y="296.2" width="2.5" height="13.8" fill="#f23645"/>
<line x1="257.52" y1="308" x2="257.52" y2="330.2" stroke="#f23645" stroke-width="0.7"/>
<rect x="256.27" y="309.2" width="2.5" height="12.1" fill="#f23645"/>
<line x1="260.57" y1="320" x2="260.57" y2="339" stroke="#f23645" stroke-width="0.7"/>
<rect x="259.32" y="320.8" width="2.5" height="6.2" fill="#f23645"/>
<line x1="263.61" y1="307.5" x2="263.61" y2="331.8" stroke="#0f9f86" stroke-width="0.7"/>
<rect x="262.36" y="314" width="2.5" height="13" fill="#0f9f86"/>
<line x1="266.66" y1="304.3" x2="266.66" y2="317" stroke="#f23645" stroke-width="0.7"/>
<rect x="265.41" y="314.3" width="2.5" height="2.2" fill="#f23645"/>
<line x1="269.71" y1="315" x2="269.71" y2="355" stroke="#f23645" stroke-width="0.7"/>
<rect x="268.46" y="316.5" width="2.5" height="12.5" fill="#f23645"/>
<line x1="272.75" y1="328" x2="272.75" y2="344" stroke="#f23645" stroke-width="0.7"/>
<rect x="271.5" y="329" width="2.5" height="13.4" fill="#f23645"/>
<line x1="275.8" y1="334" x2="275.8" y2="358" stroke="#f23645" stroke-width="0.7"/>
<rect x="274.55" y="342" width="2.5" height="13" fill="#f23645"/>
<line x1="278.84" y1="352" x2="278.84" y2="366" stroke="#f23645" stroke-width="0.7"/>
<rect x="277.59" y="355" width="2.5" height="7" fill="#f23645"/>
<line x1="281.89" y1="340" x2="281.89" y2="364" stroke="#0f9f86" stroke-width="0.7"/>
<rect x="280.64" y="346" width="2.5" height="16" fill="#0f9f86"/>
<line x1="284.94" y1="344" x2="284.94" y2="350" stroke="#f23645" stroke-width="0.7"/>
<rect x="283.69" y="346" width="2.5" height="2.9" fill="#f23645"/>
<line x1="287.98" y1="319.4" x2="287.98" y2="350" stroke="#0f9f86" stroke-width="0.7"/>
<rect x="286.73" y="323" width="2.5" height="25.9" fill="#0f9f86"/>
<line x1="291.03" y1="314" x2="291.03" y2="340.8" stroke="#f23645" stroke-width="0.7"/>
<rect x="289.78" y="323" width="2.5" height="6" fill="#f23645"/>
<line x1="294.07" y1="287" x2="294.07" y2="337.5" stroke="#0f9f86" stroke-width="0.7"/>
<rect x="292.82" y="288.9" width="2.5" height="40.1" fill="#0f9f86"/>
<line x1="297.12" y1="264" x2="297.12" y2="295.4" stroke="#0f9f86" stroke-width="0.7"/>
<rect x="295.87" y="266.2" width="2.5" height="22.7" fill="#0f9f86"/>
<line x1="300.17" y1="252" x2="300.17" y2="267" stroke="#0f9f86" stroke-width="0.7"/>
<rect x="298.92" y="254" width="2.5" height="12.2" fill="#0f9f86"/>
<line x1="303.21" y1="250" x2="303.21" y2="259.7" stroke="#0f9f86" stroke-width="0.7"/>
<rect x="301.96" y="251.6" width="2.5" height="2.4" fill="#0f9f86"/>
<line x1="306.26" y1="244.8" x2="306.26" y2="271" stroke="#0f9f86" stroke-width="0.7"/>
<rect x="305.01" y="250.9" width="2.5" height="0.8" fill="#0f9f86"/>
<line x1="309.3" y1="239" x2="309.3" y2="258" stroke="#0f9f86" stroke-width="0.7"/>
<rect x="308.05" y="240.8" width="2.5" height="9.2" fill="#0f9f86"/>
<line x1="312.35" y1="211.6" x2="312.35" y2="335" stroke="#f23645" stroke-width="0.7"/>
<rect x="311.1" y="240.8" width="2.5" height="26.2" fill="#f23645"/>
<line x1="315.4" y1="236" x2="315.4" y2="284.8" stroke="#0f9f86" stroke-width="0.7"/>
<rect x="314.15" y="248" width="2.5" height="19" fill="#0f9f86"/>
<line x1="318.44" y1="207" x2="318.44" y2="250" stroke="#0f9f86" stroke-width="0.7"/>
<rect x="317.19" y="209.2" width="2.5" height="39.7" fill="#0f9f86"/>
<line x1="321.49" y1="184" x2="321.49" y2="214" stroke="#0f9f86" stroke-width="0.7"/>
<rect x="320.24" y="206" width="2.5" height="3.2" fill="#0f9f86"/>
<line x1="324.53" y1="193.8" x2="324.53" y2="210" stroke="#f23645" stroke-width="0.7"/>
<rect x="323.28" y="206.7" width="2.5" height="0.8" fill="#f23645"/>
<line x1="327.58" y1="195.4" x2="327.58" y2="218" stroke="#0f9f86" stroke-width="0.7"/>
<rect x="326.33" y="207" width="2.5" height="1" fill="#0f9f86"/>
<line x1="330.63" y1="192" x2="330.63" y2="231" stroke="#0f9f86" stroke-width="0.7"/>
<rect x="329.38" y="193.8" width="2.5" height="13.7" fill="#0f9f86"/>
<line x1="333.67" y1="177.5" x2="333.67" y2="215" stroke="#0f9f86" stroke-width="0.7"/>
<rect x="332.42" y="188" width="2.5" height="6.6" fill="#0f9f86"/>
<line x1="336.72" y1="150" x2="336.72" y2="190" stroke="#0f9f86" stroke-width="0.7"/>
<rect x="335.47" y="153.2" width="2.5" height="34.8" fill="#0f9f86"/>
<line x1="339.76" y1="120" x2="339.76" y2="165.4" stroke="#0f9f86" stroke-width="0.7"/>
<rect x="338.51" y="122.1" width="2.5" height="31.1" fill="#0f9f86"/>
<line x1="342.81" y1="93" x2="342.81" y2="123" stroke="#0f9f86" stroke-width="0.7"/>
<rect x="341.56" y="105.1" width="2.5" height="16.2" fill="#0f9f86"/>
<line x1="345.86" y1="74.3" x2="345.86" y2="121.3" stroke="#f23645" stroke-width="0.7"/>
<rect x="344.61" y="105.1" width="2.5" height="4.5" fill="#f23645"/>
<line x1="348.9" y1="59.7" x2="348.9" y2="116.5" stroke="#0f9f86" stroke-width="0.7"/>
<rect x="347.65" y="65.4" width="2.5" height="44.2" fill="#0f9f86"/>
<line x1="351.95" y1="62" x2="351.95" y2="80" stroke="#f23645" stroke-width="0.7"/>
<rect x="350.7" y="65.4" width="2.5" height="13" fill="#f23645"/>
<line x1="354.99" y1="72.7" x2="354.99" y2="147.2" stroke="#f23645" stroke-width="0.7"/>
<rect x="353.74" y="78.4" width="2.5" height="60.4" fill="#f23645"/>
<line x1="358.04" y1="85" x2="358.04" y2="150" stroke="#0f9f86" stroke-width="0.7"/>
<rect x="356.79" y="87" width="2.5" height="51.8" fill="#0f9f86"/>
<line x1="361.09" y1="78.4" x2="361.09" y2="123" stroke="#f23645" stroke-width="0.7"/>
<rect x="359.84" y="87" width="2.5" height="28.6" fill="#f23645"/>
<line x1="364.13" y1="109" x2="364.13" y2="143.2" stroke="#f23645" stroke-width="0.7"/>
<rect x="362.88" y="115.2" width="2.5" height="10.2" fill="#f23645"/>
<line x1="367.18" y1="123" x2="367.18" y2="136" stroke="#f23645" stroke-width="0.7"/>
<rect x="365.93" y="124.9" width="2.5" height="6.9" fill="#f23645"/>
<line x1="370.22" y1="98.6" x2="370.22" y2="134" stroke="#0f9f86" stroke-width="0.7"/>
<rect x="368.97" y="105.1" width="2.5" height="26.7" fill="#0f9f86"/>
<line x1="373.27" y1="81.6" x2="373.27" y2="106" stroke="#0f9f86" stroke-width="0.7"/>
<rect x="372.02" y="93" width="2.5" height="12.1" fill="#0f9f86"/>
<line x1="376.32" y1="76.7" x2="376.32" y2="94" stroke="#0f9f86" stroke-width="0.7"/>
<rect x="375.07" y="90.2" width="2.5" height="3.2" fill="#0f9f86"/>
<line x1="379.36" y1="84.8" x2="379.36" y2="113.2" stroke="#f23645" stroke-width="0.7"/>
<rect x="378.11" y="90.2" width="2.5" height="8.9" fill="#f23645"/>
<line x1="382.41" y1="90" x2="382.41" y2="111" stroke="#0f9f86" stroke-width="0.7"/>
<rect x="381.16" y="91.8" width="2.5" height="7.3" fill="#0f9f86"/>
<line x1="385.45" y1="85" x2="385.45" y2="106" stroke="#0f9f86" stroke-width="0.7"/>
<rect x="384.2" y="86.5" width="2.5" height="5.3" fill="#0f9f86"/>
<line x1="388.5" y1="69.4" x2="388.5" y2="88" stroke="#0f9f86" stroke-width="0.7"/>
<rect x="387.25" y="82.4" width="2.5" height="4.6" fill="#0f9f86"/>
<line x1="391.55" y1="62" x2="391.55" y2="83" stroke="#0f9f86" stroke-width="0.7"/>
<rect x="390.3" y="63.8" width="2.5" height="18.6" fill="#0f9f86"/>
<line x1="394.59" y1="60.5" x2="394.59" y2="97" stroke="#f23645" stroke-width="0.7"/>
<rect x="393.34" y="63.8" width="2.5" height="22.2" fill="#f23645"/>
<line x1="397.64" y1="85" x2="397.64" y2="123" stroke="#f23645" stroke-width="0.7"/>
<rect x="396.39" y="86" width="2.5" height="24.8" fill="#f23645"/>
<line x1="400.68" y1="87" x2="400.68" y2="121" stroke="#0f9f86" stroke-width="0.7"/>
<rect x="399.43" y="101.9" width="2.5" height="8.9" fill="#0f9f86"/>
<line x1="403.73" y1="90" x2="403.73" y2="113" stroke="#f23645" stroke-width="0.7"/>
<rect x="402.48" y="101.9" width="2.5" height="2.4" fill="#f23645"/>
<line x1="406.78" y1="103" x2="406.78" y2="142.4" stroke="#f23645" stroke-width="0.7"/>
<rect x="405.53" y="104.3" width="2.5" height="23.2" fill="#f23645"/>
<line x1="409.82" y1="115" x2="409.82" y2="128" stroke="#0f9f86" stroke-width="0.7"/>
<rect x="408.57" y="117.3" width="2.5" height="10.2" fill="#0f9f86"/>
<line x1="412.87" y1="107.5" x2="412.87" y2="118" stroke="#0f9f86" stroke-width="0.7"/>
<rect x="411.62" y="114.8" width="2.5" height="2.5" fill="#0f9f86"/>
<line x1="415.91" y1="102.7" x2="415.91" y2="124.5" stroke="#0f9f86" stroke-width="0.7"/>
<rect x="414.66" y="111.9" width="2.5" height="2.9" fill="#0f9f86"/>
<line x1="418.96" y1="111" x2="418.96" y2="140" stroke="#f23645" stroke-width="0.7"/>
<rect x="417.71" y="111.9" width="2.5" height="20.8" fill="#f23645"/>
<line x1="422.01" y1="124.5" x2="422.01" y2="150" stroke="#0f9f86" stroke-width="0.7"/>
<rect x="420.76" y="130.2" width="2.5" height="2.5" fill="#0f9f86"/>
<line x1="425.05" y1="123.7" x2="425.05" y2="134" stroke="#f23645" stroke-width="0.7"/>
<rect x="423.8" y="130.2" width="2.5" height="2.5" fill="#f23645"/>
<line x1="428.1" y1="128" x2="428.1" y2="190" stroke="#f23645" stroke-width="0.7"/>
<rect x="426.85" y="131.8" width="2.5" height="50.5" fill="#f23645"/>
<line x1="431.14" y1="177.8" x2="431.14" y2="329" stroke="#f23645" stroke-width="0.7"/>
<rect x="429.89" y="182.3" width="2.5" height="43.3" fill="#f23645"/>
<line x1="434.19" y1="183.2" x2="434.19" y2="244.7" stroke="#0f9f86" stroke-width="0.7"/>
<rect x="432.94" y="187.6" width="2.5" height="38.4" fill="#0f9f86"/>
<line x1="437.24" y1="174.3" x2="437.24" y2="240" stroke="#f23645" stroke-width="0.7"/>
<rect x="435.99" y="187.6" width="2.5" height="37.4" fill="#f23645"/>
<line x1="440.28" y1="218.8" x2="440.28" y2="262.5" stroke="#f23645" stroke-width="0.7"/>
<rect x="439.03" y="225" width="2.5" height="7.2" fill="#f23645"/>
<line x1="443.33" y1="212.6" x2="443.33" y2="262.5" stroke="#f23645" stroke-width="0.7"/>
<rect x="442.08" y="232.2" width="2.5" height="13.4" fill="#f23645"/>
<line x1="446.37" y1="209" x2="446.37" y2="259" stroke="#0f9f86" stroke-width="0.7"/>
<rect x="445.12" y="214.4" width="2.5" height="31.2" fill="#0f9f86"/>
<line x1="449.42" y1="198.3" x2="449.42" y2="256" stroke="#0f9f86" stroke-width="0.7"/>
<rect x="448.17" y="213.1" width="2.5" height="1.3" fill="#0f9f86"/>
<line x1="452.47" y1="185" x2="452.47" y2="220.6" stroke="#0f9f86" stroke-width="0.7"/>
<rect x="451.22" y="187.6" width="2.5" height="25.5" fill="#0f9f86"/>
<line x1="455.51" y1="181" x2="455.51" y2="201" stroke="#f23645" stroke-width="0.7"/>
<rect x="454.26" y="187.6" width="2.5" height="7.2" fill="#f23645"/>
<line x1="458.56" y1="168" x2="458.56" y2="199" stroke="#0f9f86" stroke-width="0.7"/>
<rect x="457.31" y="172.1" width="2.5" height="22.7" fill="#0f9f86"/>
<line x1="461.6" y1="163.6" x2="461.6" y2="181" stroke="#f23645" stroke-width="0.7"/>
<rect x="460.35" y="172.1" width="2.5" height="5.7" fill="#f23645"/>
<line x1="464.65" y1="165.3" x2="464.65" y2="202.8" stroke="#f23645" stroke-width="0.7"/>
<rect x="463.4" y="177.8" width="2.5" height="19.6" fill="#f23645"/>
<line x1="467.7" y1="193" x2="467.7" y2="213.5" stroke="#f23645" stroke-width="0.7"/>
<rect x="466.45" y="197.4" width="2.5" height="8.6" fill="#f23645"/>
<line x1="470.74" y1="203" x2="470.74" y2="227.7" stroke="#f23645" stroke-width="0.7"/>
<rect x="469.49" y="206" width="2.5" height="16.8" fill="#f23645"/>
<line x1="473.79" y1="211.7" x2="473.79" y2="242.9" stroke="#0f9f86" stroke-width="0.7"/>
<rect x="472.54" y="216.7" width="2.5" height="6.1" fill="#0f9f86"/>
<line x1="476.83" y1="206.4" x2="476.83" y2="231.3" stroke="#f23645" stroke-width="0.7"/>
<rect x="475.58" y="216.7" width="2.5" height="10.2" fill="#f23645"/>
<line x1="479.88" y1="223.3" x2="479.88" y2="240" stroke="#f23645" stroke-width="0.7"/>
<rect x="478.63" y="226.3" width="2.5" height="1.4" fill="#f23645"/>
<line x1="482.93" y1="221.5" x2="482.93" y2="280" stroke="#f23645" stroke-width="0.7"/>
<rect x="481.68" y="227.4" width="2.5" height="35.6" fill="#f23645"/>
<line x1="485.97" y1="235" x2="485.97" y2="289" stroke="#0f9f86" stroke-width="0.7"/>
<rect x="484.72" y="237" width="2.5" height="26" fill="#0f9f86"/>
<line x1="489.02" y1="225" x2="489.02" y2="257" stroke="#0f9f86" stroke-width="0.7"/>
<rect x="487.77" y="227.7" width="2.5" height="9.3" fill="#0f9f86"/>
<line x1="492.06" y1="205.5" x2="492.06" y2="233" stroke="#0f9f86" stroke-width="0.7"/>
<rect x="490.81" y="209" width="2.5" height="18.7" fill="#0f9f86"/>
<line x1="495.11" y1="193.9" x2="495.11" y2="213.5" stroke="#0f9f86" stroke-width="0.7"/>
<rect x="493.86" y="202.4" width="2.5" height="7.2" fill="#0f9f86"/>
<line x1="498.16" y1="197.4" x2="498.16" y2="205" stroke="#f23645" stroke-width="0.7"/>
<rect x="496.91" y="202.4" width="2.5" height="1.3" fill="#f23645"/>
<line x1="501.2" y1="172.1" x2="501.2" y2="205" stroke="#0f9f86" stroke-width="0.7"/>
<rect x="499.95" y="182.8" width="2.5" height="20.9" fill="#0f9f86"/>
<line x1="504.25" y1="166.2" x2="504.25" y2="199" stroke="#f23645" stroke-width="0.7"/>
<rect x="503" y="182.8" width="2.5" height="14.2" fill="#f23645"/>
<line x1="507.29" y1="191.2" x2="507.29" y2="220.6" stroke="#f23645" stroke-width="0.7"/>
<rect x="506.04" y="197" width="2.5" height="17.4" fill="#f23645"/>
<line x1="510.34" y1="181.4" x2="510.34" y2="218" stroke="#0f9f86" stroke-width="0.7"/>
<rect x="509.09" y="184" width="2.5" height="30.4" fill="#0f9f86"/>
<line x1="513.39" y1="175.2" x2="513.39" y2="208" stroke="#f23645" stroke-width="0.7"/>
<rect x="512.14" y="184" width="2.5" height="18.8" fill="#f23645"/>
<line x1="516.43" y1="197.4" x2="516.43" y2="206" stroke="#f23645" stroke-width="0.7"/>
<rect x="515.18" y="202.4" width="2.5" height="1.8" fill="#f23645"/>
<line x1="519.48" y1="198.3" x2="519.48" y2="212.6" stroke="#f23645" stroke-width="0.7"/>
<rect x="518.23" y="204.2" width="2.5" height="5.8" fill="#f23645"/>
<line x1="522.52" y1="188.5" x2="522.52" y2="226.9" stroke="#0f9f86" stroke-width="0.7"/>
<rect x="521.27" y="197.8" width="2.5" height="12.2" fill="#0f9f86"/>
<line x1="525.57" y1="193" x2="525.57" y2="216" stroke="#f23645" stroke-width="0.7"/>
<rect x="524.32" y="197.8" width="2.5" height="17.1" fill="#f23645"/>
<line x1="528.62" y1="165" x2="528.62" y2="216" stroke="#0f9f86" stroke-width="0.7"/>
<rect x="527.37" y="167.5" width="2.5" height="47.4" fill="#0f9f86"/>
<line x1="531.66" y1="164" x2="531.66" y2="172.5" stroke="#0f9f86" stroke-width="0.7"/>
<rect x="530.41" y="165.6" width="2.5" height="1.8" fill="#0f9f86"/>
<line x1="534.71" y1="136" x2="534.71" y2="172.7" stroke="#0f9f86" stroke-width="0.7"/>
<rect x="533.46" y="139.7" width="2.5" height="25.9" fill="#0f9f86"/>
<line x1="537.75" y1="123.7" x2="537.75" y2="141" stroke="#0f9f86" stroke-width="0.7"/>
<rect x="536.5" y="132" width="2.5" height="7.7" fill="#0f9f86"/>
<line x1="540.8" y1="124.5" x2="540.8" y2="147.7" stroke="#f23645" stroke-width="0.7"/>
<rect x="539.55" y="132" width="2.5" height="6.5" fill="#f23645"/>
<line x1="543.85" y1="94.3" x2="543.85" y2="143.3" stroke="#0f9f86" stroke-width="0.7"/>
<rect x="542.6" y="97.8" width="2.5" height="40.7" fill="#0f9f86"/>
<line x1="546.89" y1="92.8" x2="546.89" y2="126.4" stroke="#f23645" stroke-width="0.7"/>
<rect x="545.64" y="97.8" width="2.5" height="20.5" fill="#f23645"/>
<line x1="549.94" y1="105.9" x2="549.94" y2="125.5" stroke="#f23645" stroke-width="0.7"/>
<rect x="548.69" y="117.8" width="2.5" height="3.6" fill="#f23645"/>
<line x1="552.98" y1="111.2" x2="552.98" y2="149.5" stroke="#f23645" stroke-width="0.7"/>
<rect x="551.73" y="121" width="2.5" height="2.7" fill="#f23645"/>
<line x1="556.03" y1="121" x2="556.03" y2="155.8" stroke="#f23645" stroke-width="0.7"/>
<rect x="554.78" y="122.8" width="2.5" height="21.4" fill="#f23645"/>
<line x1="559.08" y1="136.2" x2="559.08" y2="145" stroke="#0f9f86" stroke-width="0.7"/>
<rect x="557.83" y="142" width="2.5" height="1.8" fill="#0f9f86"/>
<line x1="562.12" y1="140" x2="562.12" y2="161.1" stroke="#f23645" stroke-width="0.7"/>
<rect x="560.87" y="142" width="2.5" height="12.9" fill="#f23645"/>
<line x1="565.17" y1="132.6" x2="565.17" y2="156" stroke="#0f9f86" stroke-width="0.7"/>
<rect x="563.92" y="137.9" width="2.5" height="17" fill="#0f9f86"/>
<line x1="568.21" y1="128.1" x2="568.21" y2="147.7" stroke="#f23645" stroke-width="0.7"/>
<rect x="566.96" y="137.9" width="2.5" height="3.6" fill="#f23645"/>
<line x1="571.26" y1="128.5" x2="571.26" y2="151.3" stroke="#f23645" stroke-width="0.7"/>
<rect x="570.01" y="141" width="2.5" height="1.8" fill="#f23645"/>
<line x1="574.31" y1="131.7" x2="574.31" y2="153.1" stroke="#f23645" stroke-width="0.7"/>
<rect x="573.06" y="142.4" width="2.5" height="3.9" fill="#f23645"/>
<line x1="577.35" y1="135.6" x2="577.35" y2="153.1" stroke="#f23645" stroke-width="0.7"/>
<rect x="576.1" y="145.6" width="2.5" height="3.6" fill="#f23645"/>
<line x1="580.4" y1="145" x2="580.4" y2="151" stroke="#0f9f86" stroke-width="0.7"/>
<rect x="579.15" y="147.7" width="2.5" height="1.5" fill="#0f9f86"/>
<line x1="583.44" y1="146" x2="583.44" y2="160.2" stroke="#f23645" stroke-width="0.7"/>
<rect x="582.19" y="147.7" width="2.5" height="8.1" fill="#f23645"/>
<line x1="586.49" y1="146" x2="586.49" y2="158.4" stroke="#0f9f86" stroke-width="0.7"/>
<rect x="585.24" y="151" width="2.5" height="4.8" fill="#0f9f86"/>
<line x1="589.54" y1="130.8" x2="589.54" y2="152" stroke="#0f9f86" stroke-width="0.7"/>
<rect x="588.29" y="133.1" width="2.5" height="17.9" fill="#0f9f86"/>
<line x1="592.58" y1="124.2" x2="592.58" y2="134" stroke="#0f9f86" stroke-width="0.7"/>
<rect x="591.33" y="129" width="2.5" height="4.5" fill="#0f9f86"/>
<line x1="595.63" y1="128" x2="595.63" y2="144.2" stroke="#f23645" stroke-width="0.7"/>
<rect x="594.38" y="129" width="2.5" height="8.9" fill="#f23645"/>
<line x1="598.67" y1="131.7" x2="598.67" y2="184.3" stroke="#f23645" stroke-width="0.7"/>
<rect x="597.42" y="137.9" width="2.5" height="19.1" fill="#f23645"/>
<line x1="601.72" y1="154.9" x2="601.72" y2="171" stroke="#f23645" stroke-width="0.7"/>
<rect x="600.47" y="157" width="2.5" height="13" fill="#f23645"/>
<line x1="604.77" y1="155.8" x2="604.77" y2="171" stroke="#0f9f86" stroke-width="0.7"/>
<rect x="603.52" y="157" width="2.5" height="13" fill="#0f9f86"/>
<line x1="607.81" y1="155.8" x2="607.81" y2="167.4" stroke="#f23645" stroke-width="0.7"/>
<rect x="606.56" y="157" width="2.5" height="9.5" fill="#f23645"/>
<line x1="610.86" y1="165" x2="610.86" y2="204.6" stroke="#f23645" stroke-width="0.7"/>
<rect x="609.61" y="166.2" width="2.5" height="26.8" fill="#f23645"/>
<line x1="613.9" y1="159.3" x2="613.9" y2="202" stroke="#0f9f86" stroke-width="0.7"/>
<rect x="612.65" y="176" width="2.5" height="17" fill="#0f9f86"/>
<line x1="616.95" y1="176" x2="616.95" y2="200" stroke="#f23645" stroke-width="0.7"/>
<rect x="615.7" y="177" width="2.5" height="21.9" fill="#f23645"/>
<line x1="620" y1="194.8" x2="620" y2="220.6" stroke="#f23645" stroke-width="0.7"/>
<rect x="618.75" y="198.9" width="2.5" height="12.8" fill="#f23645"/>
<line x1="623.04" y1="203" x2="623.04" y2="213" stroke="#0f9f86" stroke-width="0.7"/>
<rect x="621.79" y="204.2" width="2.5" height="7.5" fill="#0f9f86"/>
<line x1="626.09" y1="186" x2="626.09" y2="206" stroke="#0f9f86" stroke-width="0.7"/>
<rect x="624.84" y="187.6" width="2.5" height="16.6" fill="#0f9f86"/>
<line x1="629.13" y1="186.7" x2="629.13" y2="212" stroke="#f23645" stroke-width="0.7"/>
<rect x="627.88" y="187.6" width="2.5" height="23.2" fill="#f23645"/>
<line x1="632.18" y1="209" x2="632.18" y2="260.7" stroke="#f23645" stroke-width="0.7"/>
<rect x="630.93" y="210.8" width="2.5" height="17.8" fill="#f23645"/>
<line x1="635.23" y1="215.3" x2="635.23" y2="238.4" stroke="#f23645" stroke-width="0.7"/>
<rect x="633.98" y="228.6" width="2.5" height="5.4" fill="#f23645"/>
<line x1="638.27" y1="229.5" x2="638.27" y2="242" stroke="#f23645" stroke-width="0.7"/>
<rect x="637.02" y="234" width="2.5" height="7.1" fill="#f23645"/>
<line x1="641.32" y1="236" x2="641.32" y2="251" stroke="#0f9f86" stroke-width="0.7"/>
<rect x="640.07" y="237" width="2.5" height="3.6" fill="#0f9f86"/>
<line x1="644.36" y1="231" x2="644.36" y2="241.5" stroke="#f23645" stroke-width="0.7"/>
<rect x="643.11" y="237" width="2.5" height="3.6" fill="#f23645"/>
<line x1="647.41" y1="238" x2="647.41" y2="259" stroke="#f23645" stroke-width="0.7"/>
<rect x="646.16" y="239.9" width="2.5" height="17.3" fill="#f23645"/>
<line x1="650.46" y1="243" x2="650.46" y2="280" stroke="#0f9f86" stroke-width="0.7"/>
<rect x="649.21" y="244.1" width="2.5" height="13.1" fill="#0f9f86"/>
<line x1="653.5" y1="220.6" x2="653.5" y2="245" stroke="#0f9f86" stroke-width="0.7"/>
<rect x="652.25" y="231" width="2.5" height="13.1" fill="#0f9f86"/>
<line x1="656.55" y1="228" x2="656.55" y2="232" stroke="#0f9f86" stroke-width="0.7"/>
<rect x="655.3" y="230" width="2.5" height="1.3" fill="#0f9f86"/>
<line x1="659.59" y1="187.6" x2="659.59" y2="231" stroke="#0f9f86" stroke-width="0.7"/>
<rect x="658.34" y="192.1" width="2.5" height="37.9" fill="#0f9f86"/>
<line x1="662.64" y1="190.3" x2="662.64" y2="222" stroke="#f23645" stroke-width="0.7"/>
<rect x="661.39" y="192.1" width="2.5" height="28.5" fill="#f23645"/>
<line x1="665.69" y1="218" x2="665.69" y2="227.7" stroke="#0f9f86" stroke-width="0.7"/>
<rect x="664.44" y="219.7" width="2.5" height="0.9" fill="#0f9f86"/>
<line x1="668.73" y1="198.3" x2="668.73" y2="221" stroke="#0f9f86" stroke-width="0.7"/>
<rect x="667.48" y="201" width="2.5" height="18.7" fill="#0f9f86"/>
<line x1="671.78" y1="198" x2="671.78" y2="203" stroke="#0f9f86" stroke-width="0.7"/>
<rect x="670.53" y="200.8" width="2.5" height="0.8" fill="#0f9f86"/>
<line x1="674.82" y1="177.8" x2="674.82" y2="202" stroke="#0f9f86" stroke-width="0.7"/>
<rect x="673.57" y="179.6" width="2.5" height="21.4" fill="#0f9f86"/>
<line x1="677.87" y1="178" x2="677.87" y2="222.4" stroke="#f23645" stroke-width="0.7"/>
<rect x="676.62" y="179.6" width="2.5" height="38.4" fill="#f23645"/>
<line x1="680.92" y1="212.6" x2="680.92" y2="260" stroke="#f23645" stroke-width="0.7"/>
<rect x="679.67" y="218" width="2.5" height="41" fill="#f23645"/>
<line x1="683.96" y1="237" x2="683.96" y2="282.5" stroke="#0f9f86" stroke-width="0.7"/>
<rect x="682.71" y="238.1" width="2.5" height="20.9" fill="#0f9f86"/>
<line x1="687.01" y1="208" x2="687.01" y2="239" stroke="#0f9f86" stroke-width="0.7"/>
<rect x="685.76" y="211.7" width="2.5" height="26.4" fill="#0f9f86"/>
<line x1="690.05" y1="210" x2="690.05" y2="248" stroke="#f23645" stroke-width="0.7"/>
<rect x="688.8" y="211.7" width="2.5" height="35.3" fill="#f23645"/>
<line x1="693.1" y1="220" x2="693.1" y2="258" stroke="#0f9f86" stroke-width="0.7"/>
<rect x="691.85" y="221" width="2.5" height="26" fill="#0f9f86"/>
<line x1="696.15" y1="208" x2="696.15" y2="222" stroke="#0f9f86" stroke-width="0.7"/>
<rect x="694.9" y="216.7" width="2.5" height="4.3" fill="#0f9f86"/>
<line x1="699.19" y1="200" x2="699.19" y2="218" stroke="#0f9f86" stroke-width="0.7"/>
<rect x="697.94" y="202.8" width="2.5" height="13.9" fill="#0f9f86"/>
<line x1="702.24" y1="202.4" x2="702.24" y2="235" stroke="#f23645" stroke-width="0.7"/>
<rect x="700.99" y="214.4" width="2.5" height="19.1" fill="#f23645"/>
<line x1="705.28" y1="220" x2="705.28" y2="238.4" stroke="#0f9f86" stroke-width="0.7"/>
<rect x="704.03" y="222" width="2.5" height="11.5" fill="#0f9f86"/>
<line x1="708.33" y1="210" x2="708.33" y2="224" stroke="#0f9f86" stroke-width="0.7"/>
<rect x="707.08" y="215.3" width="2.5" height="6.7" fill="#0f9f86"/>
<line x1="711.38" y1="194.8" x2="711.38" y2="216" stroke="#0f9f86" stroke-width="0.7"/>
<rect x="710.13" y="198.3" width="2.5" height="17" fill="#0f9f86"/>
<line x1="714.42" y1="164" x2="714.42" y2="202" stroke="#0f9f86" stroke-width="0.7"/>
<rect x="713.17" y="165.9" width="2.5" height="32.4" fill="#0f9f86"/>
<line x1="717.47" y1="158.4" x2="717.47" y2="183.4" stroke="#0f9f86" stroke-width="0.7"/>
<rect x="716.22" y="162.4" width="2.5" height="3.5" fill="#0f9f86"/>
<line x1="720.51" y1="154" x2="720.51" y2="178" stroke="#f23645" stroke-width="0.7"/>
<rect x="719.26" y="162.4" width="2.5" height="13.9" fill="#f23645"/>
<line x1="723.56" y1="158.4" x2="723.56" y2="177" stroke="#0f9f86" stroke-width="0.7"/>
<rect x="722.31" y="166.5" width="2.5" height="9.8" fill="#0f9f86"/>
<line x1="726.61" y1="139" x2="726.61" y2="173.6" stroke="#0f9f86" stroke-width="0.7"/>
<rect x="725.36" y="140.3" width="2.5" height="26.2" fill="#0f9f86"/>
<line x1="729.65" y1="125.5" x2="729.65" y2="145" stroke="#0f9f86" stroke-width="0.7"/>
<rect x="728.4" y="129" width="2.5" height="11.3" fill="#0f9f86"/>
<line x1="732.7" y1="101.4" x2="732.7" y2="130" stroke="#0f9f86" stroke-width="0.7"/>
<rect x="731.45" y="102.8" width="2.5" height="26.2" fill="#0f9f86"/>
<line x1="735.74" y1="101" x2="735.74" y2="121.9" stroke="#f23645" stroke-width="0.7"/>
<rect x="734.49" y="102.8" width="2.5" height="14.3" fill="#f23645"/>
<line x1="738.79" y1="113" x2="738.79" y2="136.2" stroke="#f23645" stroke-width="0.7"/>
<rect x="737.54" y="117.1" width="2.5" height="13.7" fill="#f23645"/>
<line x1="741.84" y1="108.5" x2="741.84" y2="132" stroke="#0f9f86" stroke-width="0.7"/>
<rect x="740.59" y="117.8" width="2.5" height="13" fill="#0f9f86"/>
<line x1="744.88" y1="116" x2="744.88" y2="149.5" stroke="#f23645" stroke-width="0.7"/>
<rect x="743.63" y="117.8" width="2.5" height="16" fill="#f23645"/>
<line x1="747.93" y1="103.2" x2="747.93" y2="135" stroke="#0f9f86" stroke-width="0.7"/>
<rect x="746.68" y="106.7" width="2.5" height="27.1" fill="#0f9f86"/>
<line x1="750.97" y1="95.2" x2="750.97" y2="118.3" stroke="#0f9f86" stroke-width="0.7"/>
<rect x="749.72" y="105" width="2.5" height="1.7" fill="#0f9f86"/>
<line x1="754.02" y1="97" x2="754.02" y2="107" stroke="#0f9f86" stroke-width="0.7"/>
<rect x="752.77" y="102.3" width="2.5" height="2.7" fill="#0f9f86"/>
<line x1="757.07" y1="82.7" x2="757.07" y2="109.4" stroke="#f23645" stroke-width="0.7"/>
<rect x="755.82" y="102.3" width="2.5" height="5.3" fill="#f23645"/>
<line x1="760.11" y1="105" x2="760.11" y2="123.7" stroke="#f23645" stroke-width="0.7"/>
<rect x="758.86" y="107.6" width="2.5" height="8.1" fill="#f23645"/>
<line x1="763.16" y1="103.2" x2="763.16" y2="135" stroke="#f23645" stroke-width="0.7"/>
<rect x="761.91" y="115.7" width="2.5" height="17.8" fill="#f23645"/>
<line x1="766.2" y1="132" x2="766.2" y2="169" stroke="#f23645" stroke-width="0.7"/>
<rect x="764.95" y="133.5" width="2.5" height="11.6" fill="#f23645"/>
<line x1="769.25" y1="139.7" x2="769.25" y2="185" stroke="#f23645" stroke-width="0.7"/>
<rect x="768" y="144.5" width="2.5" height="38.9" fill="#f23645"/>
<line x1="772.3" y1="182" x2="772.3" y2="220.6" stroke="#f23645" stroke-width="0.7"/>
<rect x="771.05" y="183.2" width="2.5" height="29.9" fill="#f23645"/>
<line x1="775.34" y1="202.8" x2="775.34" y2="227" stroke="#f23645" stroke-width="0.7"/>
<rect x="774.09" y="213.1" width="2.5" height="12.5" fill="#f23645"/>
<line x1="778.39" y1="222" x2="778.39" y2="329" stroke="#f23645" stroke-width="0.7"/>
<rect x="777.14" y="225.6" width="2.5" height="27.1" fill="#f23645"/>
<line x1="781.43" y1="192.1" x2="781.43" y2="254" stroke="#0f9f86" stroke-width="0.7"/>
<rect x="780.18" y="207.2" width="2.5" height="45.5" fill="#0f9f86"/>
<line x1="784.48" y1="177" x2="784.48" y2="215.3" stroke="#0f9f86" stroke-width="0.7"/>
<rect x="783.23" y="205.7" width="2.5" height="1.5" fill="#0f9f86"/>
<line x1="787.53" y1="153.6" x2="787.53" y2="208" stroke="#0f9f86" stroke-width="0.7"/>
<rect x="786.28" y="154.3" width="2.5" height="51.4" fill="#0f9f86"/>
<line x1="790.57" y1="153" x2="790.57" y2="182" stroke="#f23645" stroke-width="0.7"/>
<rect x="789.32" y="154.7" width="2.5" height="19" fill="#f23645"/>
<line x1="793.62" y1="169.5" x2="793.62" y2="184.2" stroke="#f23645" stroke-width="0.7"/>
<rect x="792.37" y="173.7" width="2.5" height="6.3" fill="#f23645"/>
<line x1="796.66" y1="169.5" x2="796.66" y2="218" stroke="#f23645" stroke-width="0.7"/>
<rect x="795.41" y="180" width="2.5" height="35.9" fill="#f23645"/>
<line x1="799.71" y1="189.5" x2="799.71" y2="217" stroke="#0f9f86" stroke-width="0.7"/>
<rect x="798.46" y="202.2" width="2.5" height="13.7" fill="#0f9f86"/>
<line x1="802.76" y1="191.6" x2="802.76" y2="209.5" stroke="#0f9f86" stroke-width="0.7"/>
<rect x="801.51" y="201.1" width="2.5" height="1.1" fill="#0f9f86"/>
<line x1="805.8" y1="185.3" x2="805.8" y2="211" stroke="#f23645" stroke-width="0.7"/>
<rect x="804.55" y="201.1" width="2.5" height="8.4" fill="#f23645"/>
<line x1="808.85" y1="199" x2="808.85" y2="214" stroke="#f23645" stroke-width="0.7"/>
<rect x="807.6" y="209.1" width="2.5" height="3.6" fill="#f23645"/>
<line x1="811.89" y1="211" x2="811.89" y2="231.7" stroke="#f23645" stroke-width="0.7"/>
<rect x="810.64" y="212.7" width="2.5" height="10.5" fill="#f23645"/>
<line x1="814.94" y1="213" x2="814.94" y2="226.4" stroke="#0f9f86" stroke-width="0.7"/>
<rect x="813.69" y="214.8" width="2.5" height="8.4" fill="#0f9f86"/>
<line x1="817.99" y1="199.4" x2="817.99" y2="216" stroke="#0f9f86" stroke-width="0.7"/>
<rect x="816.74" y="213.3" width="2.5" height="1.5" fill="#0f9f86"/>
<line x1="821.03" y1="202.2" x2="821.03" y2="214" stroke="#0f9f86" stroke-width="0.7"/>
<rect x="819.78" y="207.4" width="2.5" height="5.9" fill="#0f9f86"/>
<line x1="824.08" y1="194.4" x2="824.08" y2="215" stroke="#f23645" stroke-width="0.7"/>
<rect x="822.83" y="207.4" width="2.5" height="6.3" fill="#f23645"/>
<line x1="827.12" y1="210" x2="827.12" y2="223.2" stroke="#0f9f86" stroke-width="0.7"/>
<rect x="825.87" y="211.6" width="2.5" height="2.1" fill="#0f9f86"/>
<line x1="830.17" y1="203.2" x2="830.17" y2="212" stroke="#0f9f86" stroke-width="0.7"/>
<rect x="828.92" y="205.7" width="2.5" height="5.9" fill="#0f9f86"/>
<line x1="833.22" y1="180" x2="833.22" y2="211.6" stroke="#0f9f86" stroke-width="0.7"/>
<rect x="831.97" y="181.7" width="2.5" height="28.9" fill="#0f9f86"/>
<line x1="836.26" y1="157.9" x2="836.26" y2="183" stroke="#0f9f86" stroke-width="0.7"/>
<rect x="835.01" y="161" width="2.5" height="20.7" fill="#0f9f86"/>
<line x1="839.31" y1="157.9" x2="839.31" y2="167" stroke="#f23645" stroke-width="0.7"/>
<rect x="838.06" y="161" width="2.5" height="5.3" fill="#f23645"/>
<line x1="842.35" y1="158.5" x2="842.35" y2="172.5" stroke="#f23645" stroke-width="0.7"/>
<rect x="841.1" y="166.3" width="2.5" height="5.3" fill="#f23645"/>
<line x1="845.4" y1="164.9" x2="845.4" y2="202" stroke="#f23645" stroke-width="0.7"/>
<rect x="844.15" y="171.6" width="2.5" height="29.1" fill="#f23645"/>
<line x1="848.45" y1="196.9" x2="848.45" y2="215.9" stroke="#f23645" stroke-width="0.7"/>
<rect x="847.2" y="200.7" width="2.5" height="7.8" fill="#f23645"/>
<line x1="851.49" y1="200" x2="851.49" y2="221" stroke="#f23645" stroke-width="0.7"/>
<rect x="850.24" y="208.5" width="2.5" height="11.5" fill="#f23645"/>
<line x1="854.54" y1="219" x2="854.54" y2="244.3" stroke="#f23645" stroke-width="0.7"/>
<rect x="853.29" y="220" width="2.5" height="6.4" fill="#f23645"/>
<line x1="857.58" y1="223.2" x2="857.58" y2="236" stroke="#f23645" stroke-width="0.7"/>
<rect x="856.33" y="226.4" width="2.5" height="8.4" fill="#f23645"/>
<line x1="860.63" y1="232.7" x2="860.63" y2="259" stroke="#f23645" stroke-width="0.7"/>
<rect x="859.38" y="234.8" width="2.5" height="22.1" fill="#f23645"/>
<line x1="863.68" y1="249.6" x2="863.68" y2="258" stroke="#0f9f86" stroke-width="0.7"/>
<rect x="862.43" y="251.7" width="2.5" height="5.2" fill="#0f9f86"/>
<path fill="none" stroke="#f2e27a" stroke-width="1.1" d="M356.2 427.8 C360.3 420.63 360.3 419.63 368.5 406.3 C376.7 392.97 372.6 400.13 380.8 387.8 C389 375.47 384.9 380.07 393.1 369.3 C401.3 358.53 397.7 363.7 405.4 355.5 C413.1 347.3 409 350.57 416.2 344.7 C423.4 338.83 419.3 341.8 427 337.9 C434.7 334 431.1 336.4 439.3 333 C447.5 329.6 443.4 331.8 451.6 327.7 C459.8 323.6 454.67 324.8 463.9 320.7 C473.13 316.6 469.03 318.9 479.3 315.4 C489.57 311.9 484.43 314.3 494.7 310.2 C504.97 306.1 499.83 307.2 510.1 303.1 C520.37 299 516.27 302.5 525.5 297.9 C534.73 293.3 528.57 295.27 537.8 289.3 C547.03 283.33 542.93 285.67 553.2 280 C563.47 274.33 559 276.8 568.6 272.3 C578.2 267.8 573.2 270.6 582 266.5 C590.8 262.4 587.33 263.63 595 260 C602.67 256.37 597.33 257.83 605 255.6 C612.67 253.37 609.1 254.57 618 253.3 C626.9 252.03 618.23 252.7 631.7 251.8 C645.17 250.9 642.3 252.07 658.4 250.6 C674.5 249.13 669.47 248.6 680 247.4 C690.53 246.2 680.73 247.73 690 247 C699.27 246.27 695.9 247.47 707.8 245.2 C719.7 242.93 713.8 244.53 725.7 240.2 C737.6 235.87 731.63 237.53 743.5 232.2 C755.37 226.87 752.4 227.33 761.3 224.2 C770.2 221.07 764.3 223.33 770.2 222.8 C776.1 222.27 773.07 223.03 779 222.6 C784.93 222.17 780.67 222.2 788 221.5 C795.33 220.8 789.67 221 801 220.5 C812.33 220 811.43 220.7 822 220 C832.57 219.3 825.63 219.3 832.7 218.4 C839.77 217.5 836.2 217.6 843.2 217.3 C850.2 217 846.67 216.73 853.7 217.5 C860.73 218.27 860.77 218.9 864.3 219.6"/>
<line x1="330.3" y1="59.6" x2="140.6" y2="427" stroke="rgba(248,225,61,0.8)" stroke-width="1.25" stroke-dasharray="4.6 6.3" stroke-dashoffset="-2.6"/>
</g>
<line x1="592.4" y1="124.2" x2="995" y2="382.5" stroke="#2962ff" stroke-width="1.15"/>
<line x1="787.4" y1="154.3" x2="842.2" y2="157.9" stroke="#2962ff" stroke-width="1.15"/>
<line x1="786.9" y1="485.5" x2="836.3" y2="478.6" stroke="#2962ff" stroke-width="1.15"/>
<polyline fill="none" stroke="#7e57c2" stroke-width="0.9" points="0,477.8 4.9,475.3 10.9,483.3 17,476.5 23,475.3 26.2,469.7 31.6,474.1 37.6,476 44.4,457.6 47.3,463.9 50.5,461.5 56.3,476.5 62.6,467.3 66,472.9 69.2,471.7 71.6,479 75.7,473.6 78.2,476.5 83.7,456.6 89.8,449.4 95.9,443.3 99.5,458.3 104.9,472.9 108,470.5 112.1,475.3 114,475.3 118.2,469.7 123.8,483.8 126.7,479 135.9,494 139.6,486.3 145.6,483.3 151.7,493 155.3,489.9 159,492.3 166.3,483.3 169.9,491.6 177.2,493.5 182,504.5 186.4,497.9 190.5,498.9 194.2,492.3 199,487.5 203.9,479.5 208.3,486.7 213.6,482.6 219.7,489.9 222.8,490.6 230.6,480.2 237.9,471.2 242.7,473.6 250,464.4 251.1,462.7 255.9,474.1 260,480.2 265.6,476.5 271.7,489.9 278.5,499.6 282.6,491.6 285,492.3 289.9,481.9 294.8,468 300.8,461.5 308.1,459.1 310,458.3 312.5,473.6 319,458.3 325.1,459.1 332.4,453.5 337.2,445 343.3,439.7 345.7,442.6 348.9,438.2 351.8,447.4 354.7,475.3 357.9,466.3 361.5,476.1 366.4,480.2 370,474.1 376.1,471.7 379.7,475.3 385.8,471.7 390.6,466.3 393.5,470.5 397.9,485.8 401.6,483.8 406.4,492.3 410,488.7 416.1,487.5 419.8,494 424.6,494 431.4,516.6 434.3,505.2 438,511.7 443.5,514.2 446.5,505.2 450.1,503.2 452.5,497.9 455,499.6 458.6,492.3 463,497.2 467.1,500.8 472,504.5 478,505.2 482.4,512.5 486.5,503.2 491.4,494 495,492.3 497.3,493 500.9,486.3 507,496.4 509.9,486.7 514.3,493 520.3,494.7 522.3,491.1 525.7,496.4 528.3,481.9 531.3,479.5 534.9,472.9 537.3,471.2 540.5,474.1 543.4,464.4 547,472.9 553.1,475.3 556.7,484.3 561.6,488.2 564.8,483.3 570.1,484.3 576.2,486.7 579.8,487.5 583.4,491.1 588.3,481.9 591.5,479.5 594.4,482.6 598,493.5 601.7,499.6 605.3,493.5 608.4,497.2 610.9,506.9 613.8,499.6 619.9,509.3 625.4,499.6 630.8,509.3 638.1,513 642.9,512.5 647.3,516.6 651.4,508.1 656.3,503.2 659.4,487.5 662.3,497.2 665.2,497.2 669.1,489.9 671.6,489.9 674.5,482.6 676.9,491.1 680.5,506.2 686.1,492.3 689.5,499.6 692.7,493.5 698.7,491.6 702.4,496.4 708.4,490.6 714.5,476.1 717,476.1 720.6,480.2 726.7,471.7 732.2,463.2 736.4,472.9 740,474.1 741.5,471.8 744.4,478.2 747.2,471.4 750.4,471 753.6,470.5 756.9,473.4 760.1,478.2 762.6,484.7 765.8,490.9 769,502.2 771.5,507.7 774.7,511.5 778,516.3 781.2,501.7 783.6,501.3 787.2,487.2 790.1,491.2 793.3,494.5 796.3,501.7 799,498 802.3,497.4 806.3,500.1 811.2,503.4 814.4,500.6 819.3,497.4 824.1,499.3 829.8,497.4 832.2,488.8 835.8,478.6 838.7,481.5 842,484.4 844.9,495.3 848.5,499.3 851.7,502.2 856.6,506.1 860.1,512.3 863.4,509.8"/>
<path fill="none" stroke="#d9c940" stroke-width="0.95" d="M0 462 C2.43 464.27 1.63 464.6 7.3 468.8 C12.97 473 11.33 472.17 17 474.6 C22.67 477.03 17.83 475.47 24.3 476.1 C30.77 476.73 28.33 477.57 36.4 476.5 C44.47 475.43 40.4 474.9 48.5 472.9 C56.6 470.9 52.6 471.07 60.7 470.5 C68.8 469.93 64.7 471.6 72.8 471.2 C80.9 470.8 78.53 470.77 85 469.3 C91.47 467.83 87.37 468.83 92.2 466.8 C97.03 464.77 93.83 464.33 99.5 463.2 C105.17 462.07 102.73 463.63 109.2 463.4 C115.67 463.17 113.23 462 118.9 462.5 C124.57 463 120.53 461.03 126.2 464.9 C131.87 468.77 131.03 469.57 135.9 474.1 C140.77 478.63 135.93 475.67 140.8 478.5 C145.67 481.33 144.03 479.87 150.5 482.6 C156.97 485.33 153.73 484.67 160.2 486.7 C166.67 488.73 163.43 487.63 169.9 488.7 C176.37 489.77 173.13 488.47 179.6 489.9 C186.07 491.33 183.63 491.8 189.3 493 C194.97 494.2 190.93 493.73 196.6 493.5 C202.27 493.27 199.03 493.27 206.3 492.3 C213.57 491.33 210.3 492.47 218.4 490.6 C226.5 488.73 222.5 489.77 230.6 486.7 C238.7 483.63 236.23 483.97 242.7 481.4 C249.17 478.83 246 480.2 250 479 C254 477.8 248.27 479.43 254.7 477.8 C261.13 476.17 261.2 473.53 269.3 474.1 C277.4 474.67 271.33 476.27 279 479.5 C286.67 482.73 285.03 483 292.3 483.8 C299.57 484.6 293.5 484.33 300.8 481.9 C308.1 479.47 306.1 481.53 314.2 476.5 C322.3 471.47 317.43 472.43 325.1 466.8 C332.77 461.17 328.3 464.03 337.2 459.6 C346.1 455.17 344.5 455.47 351.8 453.5 C359.1 451.53 354.23 452.67 359.1 453.7 C363.97 454.73 360.73 454.23 366.4 456.6 C372.07 458.97 369.63 457 376.1 460.8 C382.57 464.6 379.33 463.73 385.8 468 C392.27 472.27 387.43 470.33 395.5 473.6 C403.57 476.87 400.3 474.23 410 477.8 C419.7 481.37 415.7 478.67 424.6 484.3 C433.5 489.93 429.4 489.2 436.7 494.7 C444 500.2 440 497.97 446.5 500.8 C453 503.63 448.13 501.97 456.2 503.2 C464.27 504.43 461.8 504.63 470.7 504.5 C479.6 504.37 474.8 504.2 482.9 502.8 C491 501.4 486.97 501.6 495 500.3 C503.03 499 497.33 501 507 498.9 C516.67 496.8 513.5 497.8 524 494 C534.5 490.2 529.6 491.7 538.5 487.5 C547.4 483.3 542.6 484.23 550.7 481.4 C558.8 478.57 555.53 479.97 562.8 479 C570.07 478.03 566.83 478.1 572.5 478.5 C578.17 478.9 574.93 478.27 579.8 480.2 C584.67 482.13 581.43 482.43 587.1 484.3 C592.77 486.17 590.33 484.33 596.8 485.8 C603.27 487.27 599.23 486.3 606.5 488.7 C613.77 491.1 610.9 489.93 618.6 493 C626.3 496.07 622.3 493.67 629.6 497.9 C636.9 502.13 633.63 502.13 640.5 505.7 C647.37 509.27 644.53 507.8 650.2 508.6 C655.87 509.4 651.03 509.47 657.5 508.1 C663.97 506.73 662.33 507.1 669.6 504.5 C676.87 501.9 672 502.73 679.3 500.3 C686.6 497.87 685.03 499.3 691.5 497.2 C697.97 495.1 693.07 495.23 698.7 494 C704.33 492.77 701.9 494.3 708.4 493.5 C714.9 492.7 711.7 494 718.2 491.6 C724.7 489.2 720.63 490.5 727.9 486.3 C735.17 482.1 734.93 481.8 740 479 C745.07 476.2 738.83 479.87 743.1 477.9 C747.37 475.93 747.4 474.6 752.8 473.1 C758.2 471.6 755.5 473.2 759.3 473.4 C763.1 473.6 760.97 472.37 764.2 473.7 C767.43 475.03 764.7 473.47 769 477.4 C773.3 481.33 771.7 481.17 777.1 485.5 C782.5 489.83 779.8 487.4 785.2 490.4 C790.6 493.4 788.43 491.97 793.3 494.5 C798.17 497.03 794.93 495.87 799.8 498 C804.67 500.13 803.57 499.8 807.9 500.9 C812.23 502 809 501.83 812.8 501.3 C816.6 500.77 814.97 500.23 819.3 499.3 C823.63 498.37 821.5 498.93 825.8 498.5 C830.1 498.07 827.9 498.93 832.2 498 C836.5 497.07 834.9 496.87 838.7 495.7 C842.5 494.53 838.73 494.9 843.6 494.5 C848.47 494.1 847.9 494.1 853.3 494.5 C858.7 494.9 856.43 494.97 859.8 495.7 C863.17 496.43 862.2 496.37 863.4 496.7"/>
<g clip-path="url(#cpAD)"><polyline fill="none" stroke="#949130" stroke-width="0.95" points="0,622 12.5,618 14.1,616.2 15.8,618 41.5,618 43.2,616.2 44.5,614.1 46.1,616.7 50.5,616.2 52.9,615.4 56.3,615.4 62.6,610.2 66,614.1 68,614.3 71.8,616.4 75.2,613.8 77.7,615.4 82.5,607.5 85.4,602.1 90.3,596.3 93.7,596.3 96.6,593.4 100,592.9 104.9,598.1 109.2,596.3 113.6,598.6 118,596.3 120.9,600.1 128.2,595.7 135.4,599.2 139.8,595.2 145,592.8 150,596.3 154.4,595.2 159.6,598.6 167.5,595.2 174.8,594.3 182,597.2 189.3,591.4 198,589.3 202.4,587 209.1,593.4 214.1,589.9 224.3,592.2 231.6,588.5 240.3,587.6 250.5,583.5 256.3,586.4 265.1,584.7 272.4,585.5 279.6,589.3 286.9,585.5 292.7,576.8 297.1,576.8 300.8,579.1 309.6,573.3 318.3,566 324.1,570.4 327.6,570.4 335.8,561.4 343.1,548.3 346,552.6 348.9,547.7 351.8,552.6 354.7,560.2 358.5,554.4 362,557.3 367.8,557.9 373.6,555.8 380.9,556.4 385.3,554.4 391.1,553.8 397,555 411.5,555.5 420.3,555.5 429,554.4 434.2,550 437.7,551.5 440.6,550 443.6,551.2 452.3,546.8 458.1,545.6 463.9,547.7 471.2,550.6 475.6,549.1 481.4,550 487.3,546.8 493.1,545.3 500.4,544.8 507.1,547.7 510.6,545.6 519.3,546.2 525.1,547.7 529.5,545.6 536.8,545.3 544.1,543.9 549.9,545.6 554.2,544.8 560.1,545.3 565.9,544.5 571.7,546.2 580.5,548.3 586.3,548.3 590.7,546.8 604.6,547.7 619.1,549.4 627.9,548.3 632.2,548.3 638.1,550.3 642.4,548.8 646.8,549.4 651.2,546.5 657,546.2 659.9,544.5 664.3,546.2 670.1,545.6 674.5,544.8 680.3,548.5 686.1,545.6 690.5,546.2 696.3,544.5 702.1,546.2 708,545 715.3,541.8 719.6,542.1 726.9,539.8 732.7,538.4 737.1,539.5 744.4,539.5 749.6,538.4 753.1,538.1 758.9,539.8 763.3,541.3 767.7,541.8 773.5,545 779.3,541 782.2,540.4 784.6,541.8 788.1,539.8 793.9,539.8 799.7,541.3 805.6,542.4 814.3,542.7 823,543.3 831.8,541.8 837.6,540.4 843.4,541.8 852.2,542.7 858,543.3 863.8,544.8"/></g>
<line x1="0" y1="43.5" x2="995.0" y2="43.5" stroke="#6a6e7a" stroke-width="0.9" stroke-dasharray="2 1.71"/>
<line x1="455.6" y1="23" x2="455.6" y2="617" stroke="#6a6e7a" stroke-width="0.9" stroke-dasharray="1.9 1.82"/>
<rect x="0" y="428.2" width="1030" height="1" fill="#2a2e39"/>
<rect x="0" y="526.9" width="1030" height="1" fill="#2a2e39"/>
<text x="1000.7" y="51.4" fill="#b2b5be" stroke="#b2b5be" stroke-width="0.2" font-size="6.3" text-anchor="start" textLength="21.14" lengthAdjust="spacingAndGlyphs" >210.000</text>
<text x="1000.7" y="72.01" fill="#b2b5be" stroke="#b2b5be" stroke-width="0.2" font-size="6.3" text-anchor="start" textLength="21.14" lengthAdjust="spacingAndGlyphs" >200.000</text>
<text x="1000.7" y="93.68" fill="#b2b5be" stroke="#b2b5be" stroke-width="0.2" font-size="6.3" text-anchor="start" textLength="21.14" lengthAdjust="spacingAndGlyphs" >190.000</text>
<text x="1000.7" y="111.86" fill="#b2b5be" stroke="#b2b5be" stroke-width="0.2" font-size="6.3" text-anchor="start" textLength="21.14" lengthAdjust="spacingAndGlyphs" >182.000</text>
<text x="1000.7" y="130.85" fill="#b2b5be" stroke="#b2b5be" stroke-width="0.2" font-size="6.3" text-anchor="start" textLength="21.14" lengthAdjust="spacingAndGlyphs" >174.000</text>
<text x="1000.7" y="150.74" fill="#b2b5be" stroke="#b2b5be" stroke-width="0.2" font-size="6.3" text-anchor="start" textLength="21.14" lengthAdjust="spacingAndGlyphs" >166.000</text>
<text x="1000.7" y="171.6" fill="#b2b5be" stroke="#b2b5be" stroke-width="0.2" font-size="6.3" text-anchor="start" textLength="21.14" lengthAdjust="spacingAndGlyphs" >158.000</text>
<text x="1000.7" y="193.56" fill="#b2b5be" stroke="#b2b5be" stroke-width="0.2" font-size="6.3" text-anchor="start" textLength="21.14" lengthAdjust="spacingAndGlyphs" >150.000</text>
<text x="1000.7" y="215.23" fill="#b2b5be" stroke="#b2b5be" stroke-width="0.2" font-size="6.3" text-anchor="start" textLength="21.14" lengthAdjust="spacingAndGlyphs" >142.500</text>
<text x="1000.7" y="238.07" fill="#b2b5be" stroke="#b2b5be" stroke-width="0.2" font-size="6.3" text-anchor="start" textLength="21.14" lengthAdjust="spacingAndGlyphs" >135.000</text>
<text x="1000.7" y="277.4" fill="#b2b5be" stroke="#b2b5be" stroke-width="0.2" font-size="6.3" text-anchor="start" textLength="21.14" lengthAdjust="spacingAndGlyphs" >123.000</text>
<text x="1000.7" y="298.53" fill="#b2b5be" stroke="#b2b5be" stroke-width="0.2" font-size="6.3" text-anchor="start" textLength="20.71" lengthAdjust="spacingAndGlyphs" >117.000</text>
<text x="1000.7" y="320.77" fill="#b2b5be" stroke="#b2b5be" stroke-width="0.2" font-size="6.3" text-anchor="start" textLength="20.28" lengthAdjust="spacingAndGlyphs" >111.000</text>
<text x="1000.7" y="336.28" fill="#b2b5be" stroke="#b2b5be" stroke-width="0.2" font-size="6.3" text-anchor="start" textLength="21.14" lengthAdjust="spacingAndGlyphs" >107.000</text>
<text x="1000.7" y="352.38" fill="#b2b5be" stroke="#b2b5be" stroke-width="0.2" font-size="6.3" text-anchor="start" textLength="21.14" lengthAdjust="spacingAndGlyphs" >103.000</text>
<text x="1000.7" y="369.11" fill="#b2b5be" stroke="#b2b5be" stroke-width="0.2" font-size="6.3" text-anchor="start" textLength="17.89" lengthAdjust="spacingAndGlyphs" >99.000</text>
<text x="1000.7" y="384.32" fill="#b2b5be" stroke="#b2b5be" stroke-width="0.2" font-size="6.3" text-anchor="start" textLength="17.89" lengthAdjust="spacingAndGlyphs" >95.500</text>
<text x="1000.7" y="400.09" fill="#b2b5be" stroke="#b2b5be" stroke-width="0.2" font-size="6.3" text-anchor="start" textLength="17.89" lengthAdjust="spacingAndGlyphs" >92.000</text>
<text x="1000.7" y="416.48" fill="#b2b5be" stroke="#b2b5be" stroke-width="0.2" font-size="6.3" text-anchor="start" textLength="17.89" lengthAdjust="spacingAndGlyphs" >88.500</text>
<text x="1000.7" y="451.85" fill="#b2b5be" stroke="#b2b5be" stroke-width="0.2" font-size="6.3" text-anchor="start" textLength="14.64" lengthAdjust="spacingAndGlyphs" >80.00</text>
<text x="1000.7" y="479.35" fill="#b2b5be" stroke="#b2b5be" stroke-width="0.2" font-size="6.3" text-anchor="start" textLength="14.64" lengthAdjust="spacingAndGlyphs" >60.00</text>
<text x="1000.7" y="506.95" fill="#b2b5be" stroke="#b2b5be" stroke-width="0.2" font-size="6.3" text-anchor="start" textLength="14.64" lengthAdjust="spacingAndGlyphs" >40.00</text>
<text x="1000.7" y="539.25" fill="#b2b5be" stroke="#b2b5be" stroke-width="0.2" font-size="6.3" text-anchor="start" textLength="13" lengthAdjust="spacingAndGlyphs" >10 M</text>
<text x="1000.7" y="556.55" fill="#b2b5be" stroke="#b2b5be" stroke-width="0.2" font-size="6.3" text-anchor="start" textLength="14.63" lengthAdjust="spacingAndGlyphs" >7.5 M</text>
<text x="1000.7" y="573.65" fill="#b2b5be" stroke="#b2b5be" stroke-width="0.2" font-size="6.3" text-anchor="start" textLength="9.75" lengthAdjust="spacingAndGlyphs" >5 M</text>
<text x="1000.7" y="590.65" fill="#b2b5be" stroke="#b2b5be" stroke-width="0.2" font-size="6.3" text-anchor="start" textLength="14.63" lengthAdjust="spacingAndGlyphs" >2.5 M</text>
<text x="1000.7" y="606.95" fill="#b2b5be" stroke="#b2b5be" stroke-width="0.2" font-size="6.3" text-anchor="start" textLength="3.25" lengthAdjust="spacingAndGlyphs" >0</text>
<text x="992.6" y="54.7" fill="#e4d040" stroke="#e4d040" stroke-width="0.2" font-size="7.0" text-anchor="end" textLength="31.2" lengthAdjust="spacingAndGlyphs" >0 (204.889)</text>
<text x="992.6" y="152.4" fill="#e4d040" stroke="#e4d040" stroke-width="0.2" font-size="7.0" text-anchor="end" textLength="43.07" lengthAdjust="spacingAndGlyphs" >0.236 (162.867)</text>
<text x="992.6" y="212.5" fill="#e4d040" stroke="#e4d040" stroke-width="0.2" font-size="7.0" text-anchor="end" textLength="43.07" lengthAdjust="spacingAndGlyphs" >0.382 (141.306)</text>
<text x="992.6" y="261.2" fill="#e4d040" stroke="#e4d040" stroke-width="0.2" font-size="7.0" text-anchor="end" textLength="36.28" lengthAdjust="spacingAndGlyphs" >0.5 (125.985)</text>
<text x="992.6" y="310.1" fill="#e4d040" stroke="#e4d040" stroke-width="0.2" font-size="7.0" text-anchor="end" textLength="42.62" lengthAdjust="spacingAndGlyphs" >0.618 (112.324)</text>
<text x="992.6" y="346.4" fill="#e4d040" stroke="#e4d040" stroke-width="0.2" font-size="7.0" text-anchor="end" textLength="43.07" lengthAdjust="spacingAndGlyphs" >0.707 (103.010)</text>
<text x="992.6" y="379.15" fill="#e4d040" stroke="#e4d040" stroke-width="0.2" font-size="7.0" text-anchor="end" textLength="39.68" lengthAdjust="spacingAndGlyphs" >0.786 (95.392)</text>
<text x="992.6" y="419.9" fill="#e4d040" stroke="#e4d040" stroke-width="0.2" font-size="7.0" text-anchor="end" textLength="39.68" lengthAdjust="spacingAndGlyphs" >0.886 (86.551)</text>
<rect x="996.1" y="39.5" width="29" height="8.4" fill="#363a45" rx="0.8"/>
<text x="1000.7" y="45.95" fill="#ffffff" stroke="#ffffff" stroke-width="0.2" font-size="6.3" text-anchor="start" textLength="21.14" lengthAdjust="spacingAndGlyphs" >212.728</text>
<rect x="996.1" y="175.2" width="29" height="9.7" fill="#ffffff" rx="0.8"/>
<text x="1000.7" y="182.3" fill="#131722" stroke="#131722" stroke-width="0.2" font-size="6.3" text-anchor="start" textLength="21.14" lengthAdjust="spacingAndGlyphs" >154.017</text>
<rect x="996.1" y="214.8" width="29" height="9" fill="#fbe96b" rx="0.8"/>
<text x="1000.7" y="221.55" fill="#131722" stroke="#131722" stroke-width="0.2" font-size="6.3" text-anchor="start" textLength="21.14" lengthAdjust="spacingAndGlyphs" >140.453</text>
<rect x="996.1" y="247.4" width="30.5" height="16.2" fill="#1f9e88" rx="0.8"/>
<text x="1000.7" y="254.3" fill="#ffffff" stroke="#ffffff" stroke-width="0.2" font-size="6.3" text-anchor="start" textLength="21.14" lengthAdjust="spacingAndGlyphs" >130.000</text>
<text x="1000.8" y="261.1" fill="#ffffff" stroke="#ffffff" stroke-width="0.2" font-size="6.3" text-anchor="start" textLength="22.77" lengthAdjust="spacingAndGlyphs" >20:34:38</text>
<rect x="996.3" y="419.2" width="26.6" height="8.7" fill="#22ab94" rx="0.8"/>
<text x="1000.7" y="425.8" fill="#ffffff" stroke="#ffffff" stroke-width="0.2" font-size="6.3" text-anchor="start" textLength="20.17" lengthAdjust="spacingAndGlyphs" >22.01 K</text>
<rect x="996.3" y="492.6" width="22.5" height="8.3" fill="#fbe96b" rx="0.8"/>
<text x="1000.7" y="499" fill="#131722" stroke="#131722" stroke-width="0.2" font-size="6.3" text-anchor="start" textLength="14.64" lengthAdjust="spacingAndGlyphs" >45.76</text>
<rect x="996.3" y="506.6" width="22.5" height="8.4" fill="#7e57c2" rx="0.8"/>
<text x="1000.7" y="513.05" fill="#ffffff" stroke="#ffffff" stroke-width="0.2" font-size="6.3" text-anchor="start" textLength="14.64" lengthAdjust="spacingAndGlyphs" >36.25</text>
<rect x="996.3" y="540" width="27.2" height="8.4" fill="#a3a32c" rx="0.8"/>
<text x="1000.7" y="546.45" fill="#ffffff" stroke="#ffffff" stroke-width="0.2" font-size="6.3" text-anchor="start" textLength="21.14" lengthAdjust="spacingAndGlyphs" >8.992 M</text>
<rect x="998.6" y="25.5" width="28.8" height="12.2" rx="2" fill="#131722" stroke="#2a2e39" stroke-width="0.8"/>
<text x="999.8" y="34.0" fill="#d1d4dc" stroke="#d1d4dc" stroke-width="0.15" font-size="6.6" textLength="14.6" lengthAdjust="spacingAndGlyphs">USDT</text>
<path d="M1022.2 31 L1025.6 31 L1023.9 32.8 Z" fill="#b2b5be"/>
<rect x="984.8" y="38" width="10.6" height="10" fill="#2a2e39" rx="1"/>
<circle cx="990.1" cy="43" r="3.2" fill="none" stroke="#d1d4dc" stroke-width="0.7"/>
<path d="M990.1 40.4 V45.6 M987.5 43 H992.7" stroke="#d1d4dc" stroke-width="0.7"/>
<rect x="954.3" y="26.5" width="12" height="10" rx="1.5" fill="none" stroke="#1f2330" stroke-width="0.6"/>
<rect x="968.8" y="26.5" width="11.3" height="10" rx="1.5" fill="none" stroke="#1f2330" stroke-width="0.6"/>
<rect x="982.7" y="26.5" width="8.2" height="10" rx="1.5" fill="none" stroke="#1f2330" stroke-width="0.6"/>
<path d="M960.3 28.5 V34.5 M958.3 32.5 L960.3 34.5 L962.3 32.5" stroke="#3b3f4a" stroke-width="0.6" fill="none"/>
<path d="M972.5 28.5 L974.5 30.5 L976.5 28.5 M972.5 34.5 L974.5 32.5 L976.5 34.5" stroke="#3b3f4a" stroke-width="0.6" fill="none"/>
<rect x="984.9" y="28.5" width="6" height="5.5" rx="1.2" fill="none" stroke="#3b3f4a" stroke-width="0.6"/>
<circle cx="863.5" cy="421.4" r="5.1" fill="#131722" stroke="#a23bc4" stroke-width="0.9"/>
<path d="M864.9 418.6 L862.3 421.8 L863.9 421.8 L863.1 424.4 L865.7 420.9 L864.1 420.9 Z" fill="#b24fd6"/>
<text x="24" y="33.7" fill="#d1d4dc" stroke="#d1d4dc" stroke-width="0.15" font-size="7.0" font-weight="normal" textLength="5" lengthAdjust="spacingAndGlyphs">O</text>
<text x="29.5" y="33.7" fill="#f23645" stroke="#f23645" stroke-width="0.15" font-size="7.0" font-weight="normal" textLength="23" lengthAdjust="spacingAndGlyphs">151.234</text>
<text x="55.2" y="33.7" fill="#d1d4dc" stroke="#d1d4dc" stroke-width="0.15" font-size="7.0" font-weight="normal" textLength="5.3" lengthAdjust="spacingAndGlyphs">H</text>
<text x="60.9" y="33.7" fill="#f23645" stroke="#f23645" stroke-width="0.15" font-size="7.0" font-weight="normal" textLength="22.5" lengthAdjust="spacingAndGlyphs">153.438</text>
<text x="86.3" y="33.7" fill="#d1d4dc" stroke="#d1d4dc" stroke-width="0.15" font-size="7.0" font-weight="normal" textLength="3.6" lengthAdjust="spacingAndGlyphs">L</text>
<text x="90.8" y="33.7" fill="#f23645" stroke="#f23645" stroke-width="0.15" font-size="7.0" font-weight="normal" textLength="22.6" lengthAdjust="spacingAndGlyphs">146.766</text>
<text x="116.1" y="33.7" fill="#d1d4dc" stroke="#d1d4dc" stroke-width="0.15" font-size="7.0" font-weight="normal" textLength="4.1" lengthAdjust="spacingAndGlyphs">C</text>
<text x="120.9" y="33.7" fill="#f23645" stroke="#f23645" stroke-width="0.15" font-size="7.0" font-weight="normal" textLength="23.1" lengthAdjust="spacingAndGlyphs">148.804</text>
<text x="146.9" y="33.7" fill="#f23645" stroke="#f23645" stroke-width="0.15" font-size="7.0" font-weight="normal" textLength="19.6" lengthAdjust="spacingAndGlyphs">−2.471</text>
<text x="168.6" y="33.7" fill="#f23645" stroke="#f23645" stroke-width="0.15" font-size="7.0" font-weight="normal" textLength="25.6" lengthAdjust="spacingAndGlyphs">(−1.63%)</text>
<circle cx="11.5" cy="31.4" r="4.4" fill="rgba(34,171,148,0.16)"/>
<circle cx="11.5" cy="31.4" r="1.8" fill="#22ab94"/>
<rect x="3.5" y="39.4" width="34.1" height="17.2" rx="2.4" fill="#131722" stroke="#a3262f" stroke-width="0.8"/>
<text x="9.1" y="47.2" fill="#f23645" stroke="#f23645" stroke-width="0.15" font-size="6.2" font-weight="normal" textLength="23" lengthAdjust="spacingAndGlyphs">130.041</text>
<text x="14.5" y="54" fill="#f23645" stroke="#f23645" stroke-width="0.15" font-size="5.8" font-weight="normal" textLength="12" lengthAdjust="spacingAndGlyphs">SELL</text>
<text x="41.8" y="49.6" fill="#d1d4dc" stroke="#d1d4dc" stroke-width="0.15" font-size="4.8" font-weight="normal" textLength="12.2" lengthAdjust="spacingAndGlyphs">0.001</text>
<rect x="58.5" y="39.4" width="34.0" height="17.2" rx="2.4" fill="#131722" stroke="#1e4bc2" stroke-width="0.8"/>
<text x="64.5" y="47.2" fill="#2962ff" stroke="#2962ff" stroke-width="0.15" font-size="6.2" font-weight="normal" textLength="23" lengthAdjust="spacingAndGlyphs">130.042</text>
<text x="70.8" y="54" fill="#2962ff" stroke="#2962ff" stroke-width="0.15" font-size="5.8" font-weight="normal" textLength="10.1" lengthAdjust="spacingAndGlyphs">BUY</text>
<text x="3.7" y="67.4" fill="#d1d4dc" stroke="#d1d4dc" stroke-width="0.15" font-size="7.2" font-weight="normal" textLength="26.4" lengthAdjust="spacingAndGlyphs">Vol · SOL</text>
<text x="33.9" y="67.4" fill="#f23645" stroke="#f23645" stroke-width="0.15" font-size="7.1" font-weight="normal" textLength="28.2" lengthAdjust="spacingAndGlyphs">227.345 K</text>
<text x="3.7" y="79.6" fill="#d1d4dc" stroke="#d1d4dc" stroke-width="0.15" font-size="7.3" font-weight="normal" textLength="12.2" lengthAdjust="spacingAndGlyphs">EMA</text>
<text x="17.6" y="79.6" fill="#9598a1" stroke="#9598a1" stroke-width="0.15" font-size="7.2" font-weight="normal" textLength="51.8" lengthAdjust="spacingAndGlyphs">200 close 0 SMA 5</text>
<text x="73.8" y="79.6" fill="#f5e65a" stroke="#f5e65a" stroke-width="0.15" font-size="7.2" font-weight="normal" textLength="23.4" lengthAdjust="spacingAndGlyphs">109.150</text>
<rect x="4.3" y="84.4" width="14.3" height="10.3" rx="1.5" fill="none" stroke="#2a2e39" stroke-width="0.8"/>
<path d="M9.6 90.4 L11.4 88.6 L13.2 90.4" fill="none" stroke="#d1d4dc" stroke-width="0.8"/>
<text x="3.5" y="439.1" fill="#d1d4dc" stroke="#d1d4dc" stroke-width="0.15" font-size="7.0" font-weight="normal" textLength="8.7" lengthAdjust="spacingAndGlyphs">RSI</text>
<text x="14.7" y="439.1" fill="#9598a1" stroke="#9598a1" stroke-width="0.15" font-size="7.0" font-weight="normal" textLength="51.5" lengthAdjust="spacingAndGlyphs">14 close SMA 14 2</text>
<text x="70" y="439.1" fill="#7e57c2" stroke="#7e57c2" stroke-width="0.15" font-size="7.0" font-weight="normal" textLength="16.5" lengthAdjust="spacingAndGlyphs">44.11</text>
<text x="89.5" y="439.1" fill="#f5e65a" stroke="#f5e65a" stroke-width="0.15" font-size="7.0" font-weight="bold" textLength="16.4" lengthAdjust="spacingAndGlyphs">41.09</text>
<text x="108.9" y="439.1" fill="#d1d4dc" stroke="#d1d4dc" stroke-width="0.15" font-size="7.0" font-weight="normal" textLength="4.1" lengthAdjust="spacingAndGlyphs">Ø</text>
<text x="115.8" y="439.1" fill="#d1d4dc" stroke="#d1d4dc" stroke-width="0.15" font-size="7.0" font-weight="normal" textLength="5.4" lengthAdjust="spacingAndGlyphs">Ø</text>
<text x="3.6" y="538.1" fill="#d1d4dc" stroke="#d1d4dc" stroke-width="0.15" font-size="7.0" font-weight="normal" textLength="34.6" lengthAdjust="spacingAndGlyphs">Accum/Dist</text>
<text x="41.8" y="538.1" fill="#a3a32c" stroke="#a3a32c" stroke-width="0.15" font-size="7.0" font-weight="normal" textLength="22.6" lengthAdjust="spacingAndGlyphs">8.583 M</text>
<circle cx="5.7" cy="10.9" r="2.3" fill="none" stroke="#d1d4dc" stroke-width="0.9"/>
<path d="M7.4 12.6 L9.6 14.6" stroke="#d1d4dc" stroke-width="0.9"/>
<text x="12.5" y="14.2" fill="#d1d4dc" stroke="#d1d4dc" stroke-width="0.15" font-size="7.0" font-weight="bold" text-anchor="start" textLength="29.3" lengthAdjust="spacingAndGlyphs">SOLUSDT</text>
<circle cx="57.4" cy="12" r="4.6" fill="none" stroke="#d1d4dc" stroke-width="0.7"/>
<path d="M57.4 9.4 V14.6 M54.8 12 H60" stroke="#d1d4dc" stroke-width="0.7"/>
<rect x="69.3" y="6" width="0.8" height="10.7" fill="#2a2e39"/>
<rect x="185.0" y="6" width="0.8" height="10.7" fill="#2a2e39"/>
<rect x="232.2" y="6" width="0.8" height="10.7" fill="#2a2e39"/>
<rect x="320.0" y="6" width="0.8" height="10.7" fill="#2a2e39"/>
<rect x="407.20000000000005" y="6" width="0.8" height="10.7" fill="#2a2e39"/>
<text x="75.6" y="14.3" fill="#d1d4dc" stroke="#d1d4dc" stroke-width="0.15" font-size="7.0" font-weight="normal" text-anchor="start" textLength="10.1" lengthAdjust="spacingAndGlyphs">5m</text>
<text x="91.8" y="14.3" fill="#d1d4dc" stroke="#d1d4dc" stroke-width="0.15" font-size="7.0" font-weight="normal" text-anchor="start" textLength="13.3" lengthAdjust="spacingAndGlyphs">15m</text>
<text x="110.9" y="14.3" fill="#d1d4dc" stroke="#d1d4dc" stroke-width="0.15" font-size="7.0" font-weight="normal" text-anchor="start" textLength="8.1" lengthAdjust="spacingAndGlyphs">1h</text>
<text x="124.7" y="14.3" fill="#d1d4dc" stroke="#d1d4dc" stroke-width="0.15" font-size="7.0" font-weight="normal" text-anchor="start" textLength="7.8" lengthAdjust="spacingAndGlyphs">4h</text>
<text x="138.6" y="14.3" fill="#d1d4dc" stroke="#d1d4dc" stroke-width="0.15" font-size="7.0" font-weight="normal" text-anchor="start" textLength="7.8" lengthAdjust="spacingAndGlyphs">8h</text>
<text x="151.7" y="14.3" fill="#2962ff" stroke="#2962ff" stroke-width="0.15" font-size="7.0" font-weight="bold" text-anchor="start" textLength="4.7" lengthAdjust="spacingAndGlyphs">D</text>
<text x="162.2" y="14.3" fill="#d1d4dc" stroke="#d1d4dc" stroke-width="0.15" font-size="7.0" font-weight="normal" text-anchor="start" textLength="6.9" lengthAdjust="spacingAndGlyphs">W</text>
<path d="M176.29999999999998 11.5 L178.1 13.2 L179.9 11.5" fill="none" stroke="#b2b5be" stroke-width="0.7"/>
<path d="M223.1 11.5 L224.9 13.2 L226.70000000000002 11.5" fill="none" stroke="#b2b5be" stroke-width="0.7"/>
<path d="M292.09999999999997 11.5 L293.9 13.2 L295.7 11.5" fill="none" stroke="#b2b5be" stroke-width="0.7"/>
<path d="M194.45 6.4 V8.4 M194.45 15 V16.7 M198.5 8.1 V10 M198.5 13.9 V15.4" stroke="#2962ff" stroke-width="0.7"/>
<rect x="193.35" y="8.4" width="2.2" height="6.6" rx="0.4" fill="none" stroke="#2962ff" stroke-width="0.75"/>
<path d="M198.5 9.7 L199.7 10.5 V13.4 L198.5 14.2 L197.3 13.4 V10.5 Z" fill="none" stroke="#2962ff" stroke-width="0.75"/>
<path d="M209.45 6.6 V8.3 M213.55 5.5 V7" stroke="#b2b5be" stroke-width="0.7"/>
<rect x="208.3" y="8.3" width="2.3" height="7.2" rx="0.9" fill="none" stroke="#b2b5be" stroke-width="0.75"/>
<rect x="212.4" y="7" width="2.3" height="4.7" rx="0.9" fill="none" stroke="#b2b5be" stroke-width="0.75"/>
<path d="M240.3 12.3 L243.5 9.5 L245.8 11 L249 7.4" fill="none" stroke="#d1d4dc" stroke-width="0.8"/>
<path d="M240.3 16.2 H249.2 M240.8 16.2 V14 M243.3 16.2 V12 M245.8 16.2 V13.2 M248.3 16.2 V11" stroke="#d1d4dc" stroke-width="0.8" fill="none"/>
<text x="252.5" y="14.3" fill="#d1d4dc" stroke="#d1d4dc" stroke-width="0.15" font-size="7.0" font-weight="normal" text-anchor="start" textLength="31.5" lengthAdjust="spacingAndGlyphs">Indicators</text>
<rect x="304.3" y="7.7" width="3.25" height="3.25" rx="1" fill="none" stroke="#d1d4dc" stroke-width="0.75"/>
<rect x="309.4" y="7.7" width="3.25" height="3.25" rx="1" fill="none" stroke="#d1d4dc" stroke-width="0.75"/>
<rect x="304.3" y="12.3" width="3.25" height="3.25" rx="1" fill="none" stroke="#d1d4dc" stroke-width="0.75"/>
<rect x="309.4" y="12.3" width="3.25" height="3.25" rx="1" fill="none" stroke="#d1d4dc" stroke-width="0.75"/>
<path d="M332.5 16.2 A4 4 0 1 1 335.7 13" fill="none" stroke="#d1d4dc" stroke-width="0.75"/>
<path d="M331.2 12.4 L332.3 10.2 M327.7 9.3 L329.3 7.4 M335.9 9.3 L334.3 7.4 M335.4 14 V17 M333.9 15.5 H336.9" fill="none" stroke="#d1d4dc" stroke-width="0.75"/>
<text x="340.2" y="14.3" fill="#d1d4dc" stroke="#d1d4dc" stroke-width="0.15" font-size="7.0" font-weight="normal" text-anchor="start" textLength="15.8" lengthAdjust="spacingAndGlyphs">Alert</text>
<path d="M370.4 9.4 L367.5 12 L370.4 14.6 Z M374.6 9.4 L371.7 12 L374.6 14.6 Z" fill="none" stroke="#d1d4dc" stroke-width="0.75" stroke-linejoin="round"/>
<text x="378.8" y="14.3" fill="#d1d4dc" stroke="#d1d4dc" stroke-width="0.15" font-size="7.0" font-weight="normal" text-anchor="start" textLength="21.4" lengthAdjust="spacingAndGlyphs">Replay</text>
<path d="M416 11.8 L418.3 9.6 M416 11.8 L418.3 13.8 M416 11.8 H420.5 Q422.8 11.8 422.8 14.4" fill="none" stroke="#b2b5be" stroke-width="0.8"/>
<path d="M442 11.8 L439.7 9.6 M442 11.8 L439.7 13.8 M442 11.8 H437.5 Q435.2 11.8 435.2 14.4" fill="none" stroke="#4a4e59" stroke-width="0.8"/>
</svg>
</body></html>
